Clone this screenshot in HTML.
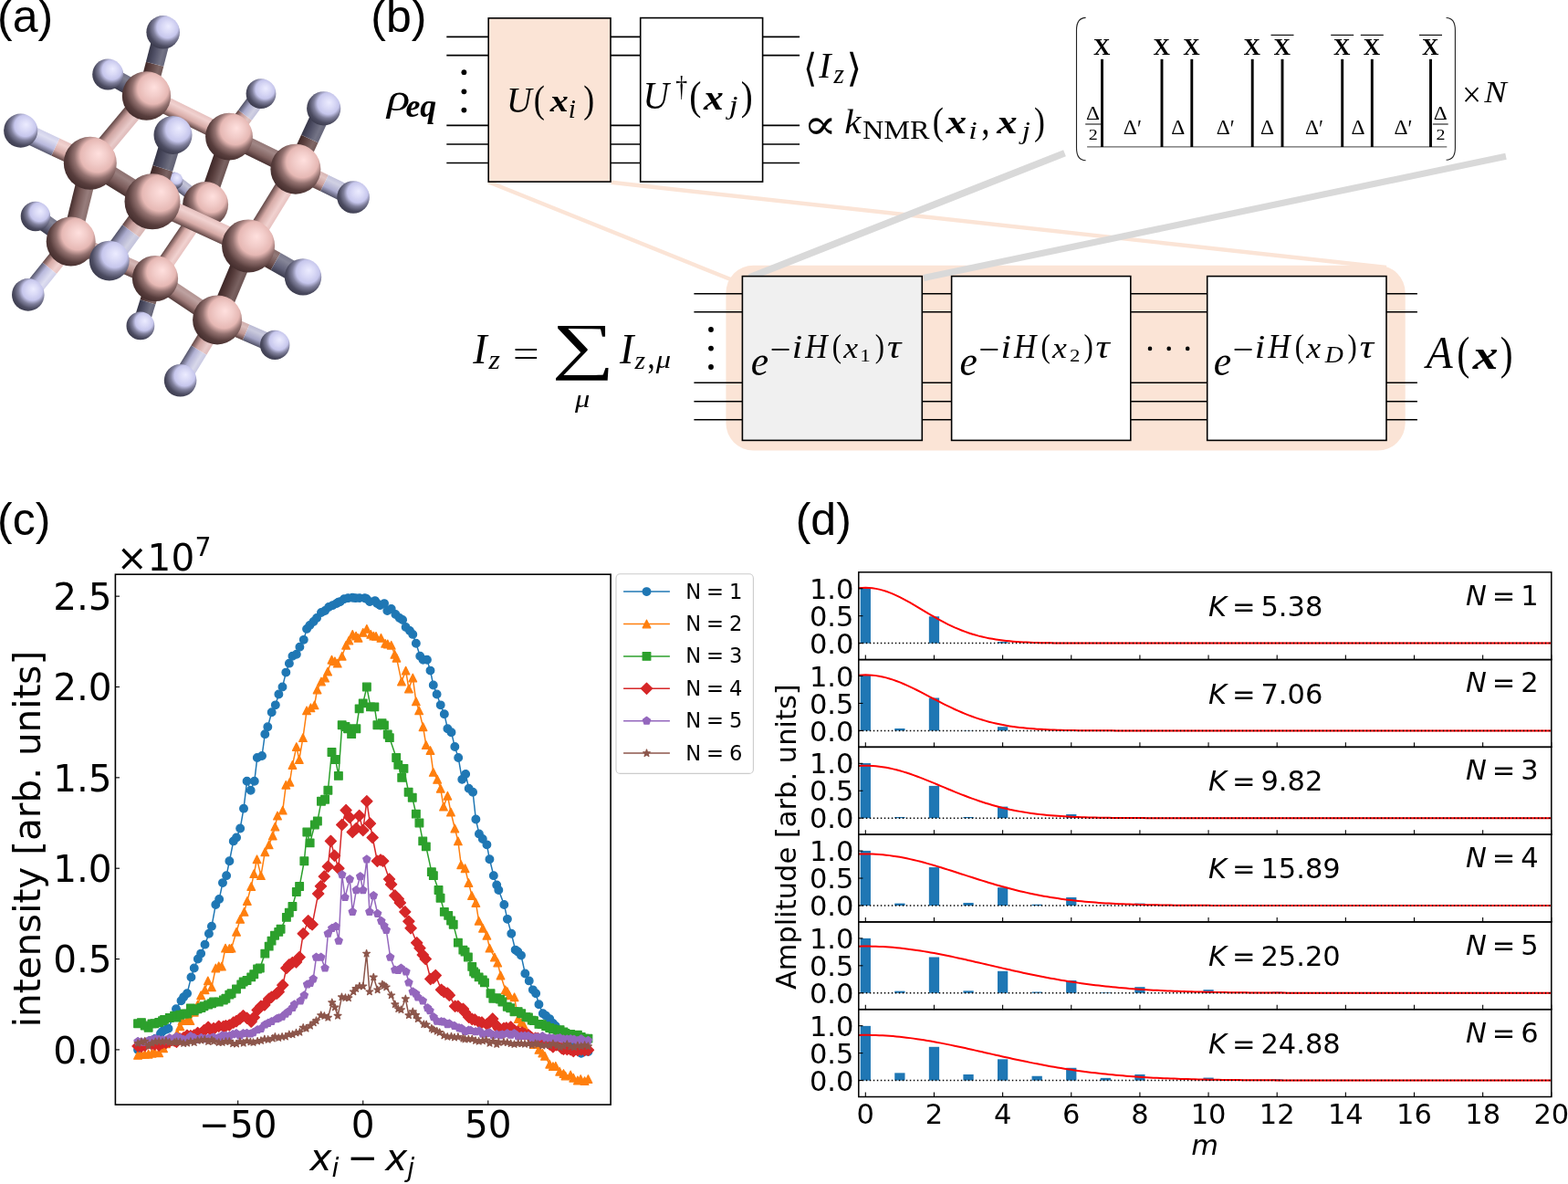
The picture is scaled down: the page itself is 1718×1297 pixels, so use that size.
<!DOCTYPE html>
<html><head><meta charset="utf-8"><title>Figure</title>
<style>html,body{margin:0;padding:0;background:#fff;overflow:hidden}svg{display:block}</style>
</head><body>
<svg width="1718" height="1297" viewBox="0 0 1718 1297"><defs><radialGradient id="sphC" cx="0.6" cy="0.4" r="0.7" fx="0.66" fy="0.32"><stop offset="0" stop-color="#ffe0de"/><stop offset="0.25" stop-color="#f2ccc9"/><stop offset="0.45" stop-color="#e6b8b4"/><stop offset="0.6" stop-color="#947270"/><stop offset="0.78" stop-color="#583e3d"/><stop offset="1" stop-color="#392424"/></radialGradient><radialGradient id="sphH" cx="0.6" cy="0.4" r="0.7" fx="0.66" fy="0.32"><stop offset="0" stop-color="#ececff"/><stop offset="0.25" stop-color="#d9d9f6"/><stop offset="0.45" stop-color="#c6c6ec"/><stop offset="0.6" stop-color="#80809c"/><stop offset="0.78" stop-color="#4c4c61"/><stop offset="1" stop-color="#323243"/></radialGradient><linearGradient id="bg1" gradientUnits="userSpaceOnUse" x1="155.4" y1="85.06" x2="174.7" y2="90.09"><stop offset="0" stop-color="#3f2828"/><stop offset="0.35" stop-color="#5e4342"/><stop offset="0.75" stop-color="#7f6766"/><stop offset="1" stop-color="#725958"/></linearGradient><linearGradient id="bg2" gradientUnits="userSpaceOnUse" x1="164.5" y1="50.21" x2="183.8" y2="55.24"><stop offset="0" stop-color="#363648"/><stop offset="0.35" stop-color="#515167"/><stop offset="0.75" stop-color="#747486"/><stop offset="1" stop-color="#66667a"/></linearGradient><linearGradient id="bg3" gradientUnits="userSpaceOnUse" x1="145.26" y1="107.52" x2="154.59" y2="90.73"><stop offset="0" stop-color="#422c2b"/><stop offset="0.35" stop-color="#6a4e4d"/><stop offset="0.75" stop-color="#8b7271"/><stop offset="1" stop-color="#7e6463"/></linearGradient><linearGradient id="bg4" gradientUnits="userSpaceOnUse" x1="124.11" y1="95.77" x2="133.44" y2="78.98"><stop offset="0" stop-color="#3a3a4c"/><stop offset="0.35" stop-color="#5c5c73"/><stop offset="0.75" stop-color="#7f7f91"/><stop offset="1" stop-color="#717185"/></linearGradient><linearGradient id="bg5" gradientUnits="userSpaceOnUse" x1="201.53" y1="135.86" x2="209.97" y2="118.74"><stop offset="0" stop-color="#624746"/><stop offset="0.35" stop-color="#d7aba7"/><stop offset="0.75" stop-color="#f1d2d0"/><stop offset="1" stop-color="#e7c2c0"/></linearGradient><linearGradient id="bg6" gradientUnits="userSpaceOnUse" x1="121.9" y1="135.36" x2="137.4" y2="148.34"><stop offset="0" stop-color="#604544"/><stop offset="0.35" stop-color="#cfa4a1"/><stop offset="0.75" stop-color="#e9cbca"/><stop offset="1" stop-color="#dfbbba"/></linearGradient><linearGradient id="bg7" gradientUnits="userSpaceOnUse" x1="252.3" y1="132.3" x2="267.2" y2="143.4"><stop offset="0" stop-color="#5e4342"/><stop offset="0.35" stop-color="#c79d9a"/><stop offset="0.75" stop-color="#e2c5c3"/><stop offset="1" stop-color="#d7b5b3"/></linearGradient><linearGradient id="bg8" gradientUnits="userSpaceOnUse" x1="269.8" y1="108.8" x2="284.7" y2="119.9"><stop offset="0" stop-color="#515166"/><stop offset="0.35" stop-color="#ababce"/><stop offset="0.75" stop-color="#d1d1e3"/><stop offset="1" stop-color="#c2c2db"/></linearGradient><linearGradient id="bg9" gradientUnits="userSpaceOnUse" x1="283.2" y1="176.11" x2="291.7" y2="158.69"><stop offset="0" stop-color="#493131"/><stop offset="0.35" stop-color="#816260"/><stop offset="0.75" stop-color="#a18786"/><stop offset="1" stop-color="#947877"/></linearGradient><linearGradient id="bg10" gradientUnits="userSpaceOnUse" x1="229.32" y1="183.82" x2="246.78" y2="189.88"><stop offset="0" stop-color="#3d2727"/><stop offset="0.35" stop-color="#583e3d"/><stop offset="0.75" stop-color="#7a6261"/><stop offset="1" stop-color="#6c5453"/></linearGradient><linearGradient id="bg11" gradientUnits="userSpaceOnUse" x1="75.34" y1="179.28" x2="84.21" y2="160.32"><stop offset="0" stop-color="#624746"/><stop offset="0.35" stop-color="#d7aba7"/><stop offset="0.75" stop-color="#f1d2d0"/><stop offset="1" stop-color="#e7c2c0"/></linearGradient><linearGradient id="bg12" gradientUnits="userSpaceOnUse" x1="37.29" y1="161.48" x2="46.16" y2="142.52"><stop offset="0" stop-color="#55556b"/><stop offset="0.35" stop-color="#b9b9dd"/><stop offset="0.75" stop-color="#dedef1"/><stop offset="1" stop-color="#cfcfe9"/></linearGradient><linearGradient id="bg13" gradientUnits="userSpaceOnUse" x1="127.23" y1="208.94" x2="138.57" y2="190.56"><stop offset="0" stop-color="#47302f"/><stop offset="0.35" stop-color="#7a5b5a"/><stop offset="0.75" stop-color="#9a807f"/><stop offset="1" stop-color="#8d7170"/></linearGradient><linearGradient id="bg14" gradientUnits="userSpaceOnUse" x1="78.38" y1="219.17" x2="98.12" y2="224.03"><stop offset="0" stop-color="#462f2e"/><stop offset="0.35" stop-color="#775957"/><stop offset="0.75" stop-color="#977d7c"/><stop offset="1" stop-color="#8a6f6d"/></linearGradient><linearGradient id="bg15" gradientUnits="userSpaceOnUse" x1="322.35" y1="164.31" x2="340.85" y2="172.89"><stop offset="0" stop-color="#3f2828"/><stop offset="0.35" stop-color="#5e4342"/><stop offset="0.75" stop-color="#7f6766"/><stop offset="1" stop-color="#725958"/></linearGradient><linearGradient id="bg16" gradientUnits="userSpaceOnUse" x1="337.75" y1="131.11" x2="356.25" y2="139.69"><stop offset="0" stop-color="#363648"/><stop offset="0.35" stop-color="#515167"/><stop offset="0.75" stop-color="#747486"/><stop offset="1" stop-color="#66667a"/></linearGradient><linearGradient id="bg17" gradientUnits="userSpaceOnUse" x1="335.33" y1="201.87" x2="344.07" y2="183.93"><stop offset="0" stop-color="#5e4342"/><stop offset="0.35" stop-color="#c79d9a"/><stop offset="0.75" stop-color="#e2c5c3"/><stop offset="1" stop-color="#d7b5b3"/></linearGradient><linearGradient id="bg18" gradientUnits="userSpaceOnUse" x1="366.93" y1="217.27" x2="375.67" y2="199.33"><stop offset="0" stop-color="#515166"/><stop offset="0.35" stop-color="#ababce"/><stop offset="0.75" stop-color="#d1d1e3"/><stop offset="1" stop-color="#c2c2db"/></linearGradient><linearGradient id="bg19" gradientUnits="userSpaceOnUse" x1="289.27" y1="221.93" x2="306.73" y2="232.67"><stop offset="0" stop-color="#624746"/><stop offset="0.35" stop-color="#d7aba7"/><stop offset="0.75" stop-color="#f1d2d0"/><stop offset="1" stop-color="#e7c2c0"/></linearGradient><linearGradient id="bg20" gradientUnits="userSpaceOnUse" x1="161.72" y1="199.21" x2="183.53" y2="205.94"><stop offset="0" stop-color="#3d2727"/><stop offset="0.35" stop-color="#583e3d"/><stop offset="0.75" stop-color="#7a6261"/><stop offset="1" stop-color="#6c5453"/></linearGradient><linearGradient id="bg21" gradientUnits="userSpaceOnUse" x1="172.97" y1="162.76" x2="194.78" y2="169.49"><stop offset="0" stop-color="#353546"/><stop offset="0.35" stop-color="#4c4c61"/><stop offset="0.75" stop-color="#6f6f80"/><stop offset="1" stop-color="#616174"/></linearGradient><linearGradient id="bg22" gradientUnits="userSpaceOnUse" x1="145.77" y1="230.13" x2="164.63" y2="243.87"><stop offset="0" stop-color="#5e4342"/><stop offset="0.35" stop-color="#c79d9a"/><stop offset="0.75" stop-color="#e2c5c3"/><stop offset="1" stop-color="#d7b5b3"/></linearGradient><linearGradient id="bg23" gradientUnits="userSpaceOnUse" x1="122.17" y1="262.53" x2="141.03" y2="276.27"><stop offset="0" stop-color="#515166"/><stop offset="0.35" stop-color="#ababce"/><stop offset="0.75" stop-color="#d1d1e3"/><stop offset="1" stop-color="#c2c2db"/></linearGradient><linearGradient id="bg24" gradientUnits="userSpaceOnUse" x1="215.02" y1="254.9" x2="224.08" y2="235.3"><stop offset="0" stop-color="#624746"/><stop offset="0.35" stop-color="#d7aba7"/><stop offset="0.75" stop-color="#f1d2d0"/><stop offset="1" stop-color="#e7c2c0"/></linearGradient><linearGradient id="bg25" gradientUnits="userSpaceOnUse" x1="190.04" y1="259.43" x2="205.06" y2="269.67"><stop offset="0" stop-color="#624746"/><stop offset="0.35" stop-color="#d7aba7"/><stop offset="0.75" stop-color="#f1d2d0"/><stop offset="1" stop-color="#e7c2c0"/></linearGradient><linearGradient id="bg26" gradientUnits="userSpaceOnUse" x1="212.2" y1="223.29" x2="220.95" y2="211.86"><stop offset="0" stop-color="#593f3e"/><stop offset="0.35" stop-color="#b8908d"/><stop offset="0.75" stop-color="#d4b7b5"/><stop offset="1" stop-color="#c9a7a5"/></linearGradient><linearGradient id="bg27" gradientUnits="userSpaceOnUse" x1="195.15" y1="210.24" x2="203.9" y2="198.81"><stop offset="0" stop-color="#4d4d62"/><stop offset="0.35" stop-color="#9e9ebf"/><stop offset="0.75" stop-color="#c3c3d6"/><stop offset="1" stop-color="#b4b4cd"/></linearGradient><linearGradient id="bg28" gradientUnits="userSpaceOnUse" x1="62.54" y1="265.32" x2="73.46" y2="249.93"><stop offset="0" stop-color="#442e2d"/><stop offset="0.35" stop-color="#725553"/><stop offset="0.75" stop-color="#927978"/><stop offset="1" stop-color="#856b69"/></linearGradient><linearGradient id="bg29" gradientUnits="userSpaceOnUse" x1="43.14" y1="251.57" x2="54.06" y2="236.18"><stop offset="0" stop-color="#3c3c4e"/><stop offset="0.35" stop-color="#63637b"/><stop offset="0.75" stop-color="#868698"/><stop offset="1" stop-color="#78788c"/></linearGradient><linearGradient id="bg30" gradientUnits="userSpaceOnUse" x1="58.27" y1="272.91" x2="73.68" y2="285.29"><stop offset="0" stop-color="#624746"/><stop offset="0.35" stop-color="#d7aba7"/><stop offset="0.75" stop-color="#f1d2d0"/><stop offset="1" stop-color="#e7c2c0"/></linearGradient><linearGradient id="bg31" gradientUnits="userSpaceOnUse" x1="34.82" y1="302.11" x2="50.23" y2="314.49"><stop offset="0" stop-color="#55556b"/><stop offset="0.35" stop-color="#b9b9dd"/><stop offset="0.75" stop-color="#dedef1"/><stop offset="1" stop-color="#cfcfe9"/></linearGradient><linearGradient id="bg32" gradientUnits="userSpaceOnUse" x1="120.05" y1="293.41" x2="127.65" y2="276.09"><stop offset="0" stop-color="#593f3e"/><stop offset="0.35" stop-color="#b8908d"/><stop offset="0.75" stop-color="#d4b7b5"/><stop offset="1" stop-color="#c9a7a5"/></linearGradient><linearGradient id="bg33" gradientUnits="userSpaceOnUse" x1="281.69" y1="287.4" x2="292.46" y2="268.4"><stop offset="0" stop-color="#442e2d"/><stop offset="0.35" stop-color="#725553"/><stop offset="0.75" stop-color="#927978"/><stop offset="1" stop-color="#856b69"/></linearGradient><linearGradient id="bg34" gradientUnits="userSpaceOnUse" x1="311.64" y1="304.4" x2="322.41" y2="285.4"><stop offset="0" stop-color="#3c3c4e"/><stop offset="0.35" stop-color="#63637b"/><stop offset="0.75" stop-color="#868698"/><stop offset="1" stop-color="#78788c"/></linearGradient><linearGradient id="bg35" gradientUnits="userSpaceOnUse" x1="245.73" y1="305.97" x2="264.47" y2="313.83"><stop offset="0" stop-color="#3d2727"/><stop offset="0.35" stop-color="#583e3d"/><stop offset="0.75" stop-color="#7a6261"/><stop offset="1" stop-color="#6c5453"/></linearGradient><linearGradient id="bg36" gradientUnits="userSpaceOnUse" x1="157.51" y1="315.35" x2="174.44" y2="320.6"><stop offset="0" stop-color="#3f2828"/><stop offset="0.35" stop-color="#5e4342"/><stop offset="0.75" stop-color="#7f6766"/><stop offset="1" stop-color="#725958"/></linearGradient><linearGradient id="bg37" gradientUnits="userSpaceOnUse" x1="149.46" y1="341.3" x2="166.39" y2="346.55"><stop offset="0" stop-color="#363648"/><stop offset="0.35" stop-color="#515167"/><stop offset="0.75" stop-color="#747486"/><stop offset="1" stop-color="#66667a"/></linearGradient><linearGradient id="bg38" gradientUnits="userSpaceOnUse" x1="198.81" y1="335.57" x2="209.29" y2="319.83"><stop offset="0" stop-color="#523938"/><stop offset="0.35" stop-color="#a07c7a"/><stop offset="0.75" stop-color="#bea2a1"/><stop offset="1" stop-color="#b29391"/></linearGradient><linearGradient id="bg39" gradientUnits="userSpaceOnUse" x1="250.11" y1="365.93" x2="257.64" y2="348.62"><stop offset="0" stop-color="#5b4140"/><stop offset="0.35" stop-color="#bf9794"/><stop offset="0.75" stop-color="#dbbebc"/><stop offset="1" stop-color="#d0aeac"/></linearGradient><linearGradient id="bg40" gradientUnits="userSpaceOnUse" x1="281.66" y1="379.68" x2="289.19" y2="362.37"><stop offset="0" stop-color="#4f4f64"/><stop offset="0.35" stop-color="#a5a5c6"/><stop offset="0.75" stop-color="#cacadd"/><stop offset="1" stop-color="#bbbbd4"/></linearGradient><linearGradient id="bg41" gradientUnits="userSpaceOnUse" x1="219.54" y1="361.85" x2="236.41" y2="372.15"><stop offset="0" stop-color="#604544"/><stop offset="0.35" stop-color="#cfa4a1"/><stop offset="0.75" stop-color="#e9cbca"/><stop offset="1" stop-color="#dfbbba"/></linearGradient><linearGradient id="bg42" gradientUnits="userSpaceOnUse" x1="199.29" y1="395.05" x2="216.16" y2="405.35"><stop offset="0" stop-color="#535369"/><stop offset="0.35" stop-color="#b2b2d5"/><stop offset="0.75" stop-color="#d8d8ea"/><stop offset="1" stop-color="#c9c9e2"/></linearGradient><circle id="m0" r="4.3" fill="#1f77b4" stroke="#1f77b4" stroke-width="1.3"/><path id="m1" d="M0,-4.3 L4.3,4.3 L-4.3,4.3 Z" fill="#ff7f0e" stroke="#ff7f0e" stroke-width="1.3" stroke-linejoin="round"/><path id="m2" d="M-4.3,-4.3 h8.6 v8.6 h-8.6 Z" fill="#2ca02c" stroke="#2ca02c" stroke-width="1.3" stroke-linejoin="round"/><path id="m3" d="M0,-6.08 L6.08,0 L0,6.08 L-6.08,0 Z" fill="#d62728" stroke="#d62728" stroke-width="1.3" stroke-linejoin="round"/><path id="m4" d="M0,-4.3 L-4.09,-1.33 L-2.53,3.48 L2.53,3.48 L4.09,-1.33 Z" fill="#9467bd" stroke="#9467bd" stroke-width="1.3" stroke-linejoin="round"/><path id="m5" d="M0,-4.08 L-0.92,-1.26 L-3.89,-1.26 L-1.48,0.48 L-2.4,3.3 L-0,1.56 L2.4,3.3 L1.48,0.48 L3.89,-1.26 L0.92,-1.26 Z" fill="#8c564b" stroke="#8c564b" stroke-width="1.3" stroke-linejoin="round"/></defs><text x="-3" y="34.8" font-family="'Liberation Sans', Arial, sans-serif" font-size="50">(a)</text>
<text x="406.3" y="34.8" font-family="'Liberation Sans', Arial, sans-serif" font-size="50">(b)</text>
<text x="-3" y="586" font-family="'Liberation Sans', Arial, sans-serif" font-size="50">(c)</text>
<text x="871.7" y="586" font-family="'Liberation Sans', Arial, sans-serif" font-size="50">(d)</text>
<g>
<polygon points="229.47,218.38 212.42,205.33 203.68,216.77 220.73,229.82" fill="url(#bg26)"/><polygon points="212.42,205.33 195.37,192.28 186.63,203.72 203.68,216.77" fill="url(#bg27)"/>
<circle cx="191" cy="198" r="9.5" fill="url(#sphH)"/>
<polygon points="178.47,307.63 170.42,333.58 153.48,328.32 161.53,302.37" fill="url(#bg36)"/><polygon points="170.42,333.58 162.37,359.53 145.43,354.27 153.48,328.32" fill="url(#bg37)"/>
<circle cx="153.9" cy="356.9" r="15.4" fill="url(#sphH)"/>
<polygon points="83.16,256.8 63.76,243.05 52.84,258.45 72.24,272.2" fill="url(#bg28)"/><polygon points="63.76,243.05 44.36,229.3 33.44,244.7 52.84,258.45" fill="url(#bg29)"/>
<polygon points="241.87,341.75 273.42,355.5 265.88,372.8 234.33,359.05" fill="url(#bg39)"/><polygon points="273.42,355.5 304.97,369.25 297.43,386.55 265.88,372.8" fill="url(#bg40)"/>
<polygon points="259.73,152.63 233.83,227.13 216.37,221.07 242.27,146.57" fill="url(#bg10)"/>
<polygon points="232.61,229.22 177.51,310.12 162.49,299.88 217.59,218.98" fill="url(#bg25)"/>
<circle cx="38.9" cy="237" r="16.2" fill="url(#sphH)"/>
<circle cx="301.2" cy="377.9" r="16.2" fill="url(#sphH)"/>
<circle cx="225.1" cy="224.1" r="25" fill="url(#sphC)"/>
<polygon points="81.5,255.84 173.8,296.34 166.2,313.66 73.9,273.16" fill="url(#bg32)"/>
<polygon points="175.24,297.13 243.34,342.53 232.86,358.27 164.76,312.87" fill="url(#bg38)"/>
<circle cx="170" cy="305" r="25.1" fill="url(#sphC)"/>
<polygon points="258.45,155.15 275.95,131.65 261.05,120.55 243.55,144.05" fill="url(#bg7)"/><polygon points="275.95,131.65 293.45,108.15 278.55,97.05 261.05,120.55" fill="url(#bg8)"/>
<circle cx="286" cy="102.6" r="16.4" fill="url(#sphH)"/>
<polygon points="164.72,96.44 255.22,141.04 246.78,158.16 156.28,113.56" fill="url(#bg5)"/>
<polygon points="255.25,140.89 328.15,176.49 319.65,193.91 246.75,158.31" fill="url(#bg9)"/>
<circle cx="251" cy="149.6" r="25.9" fill="url(#sphC)"/>
<polygon points="165.16,96.6 144.01,84.85 134.69,101.65 155.84,113.4" fill="url(#bg3)"/><polygon points="144.01,84.85 122.86,73.1 113.54,89.9 134.69,101.65" fill="url(#bg4)"/>
<circle cx="118.2" cy="81.5" r="17" fill="url(#sphH)"/>
<polygon points="170.15,107.52 179.25,72.67 159.95,67.63 150.85,102.48" fill="url(#bg1)"/><polygon points="179.25,72.67 188.35,37.82 169.05,32.78 159.95,67.63" fill="url(#bg2)"/>
<polygon points="168.25,111.49 106.55,185.19 91.05,172.21 152.75,98.51" fill="url(#bg6)"/>
<circle cx="160.5" cy="105" r="26.7" fill="url(#sphC)"/>
<polygon points="108.67,181.13 87.57,266.93 67.83,262.07 88.93,176.27" fill="url(#bg14)"/>
<polygon points="85.41,270.69 61.96,299.89 46.54,287.51 69.99,258.31" fill="url(#bg30)"/><polygon points="61.96,299.89 38.51,329.09 23.09,316.71 46.54,287.51" fill="url(#bg31)"/>
<polygon points="281.47,273.33 247.47,354.33 228.73,346.47 262.73,265.47" fill="url(#bg35)"/>
<polygon points="246.54,355.55 226.29,388.75 209.41,378.45 229.66,345.25" fill="url(#bg41)"/><polygon points="226.29,388.75 206.04,421.95 189.16,411.65 209.41,378.45" fill="url(#bg42)"/>
<circle cx="77.7" cy="264.5" r="27" fill="url(#sphC)"/>
<circle cx="238.1" cy="350.4" r="27" fill="url(#sphC)"/>
<polygon points="328.27,176.23 359.87,191.63 351.13,209.57 319.53,194.17" fill="url(#bg17)"/><polygon points="359.87,191.63 391.47,207.03 382.73,224.97 351.13,209.57" fill="url(#bg18)"/>
<circle cx="387.1" cy="216" r="17.8" fill="url(#sphH)"/>
<circle cx="30.8" cy="322.9" r="17.8" fill="url(#sphH)"/>
<circle cx="197.6" cy="416.8" r="17.8" fill="url(#sphH)"/>
<polygon points="333.15,189.49 348.55,156.29 330.05,147.71 314.65,180.91" fill="url(#bg15)"/><polygon points="348.55,156.29 363.95,123.09 345.45,114.51 330.05,147.71" fill="url(#bg16)"/>
<polygon points="332.63,190.57 280.83,274.77 263.37,264.03 315.17,179.83" fill="url(#bg19)"/>
<circle cx="323.9" cy="185.2" r="27.5" fill="url(#sphC)"/>
<circle cx="178.7" cy="35.3" r="18.3" fill="url(#sphH)"/>
<polygon points="103.24,169.22 65.19,151.42 56.31,170.38 94.36,188.18" fill="url(#bg11)"/><polygon points="65.19,151.42 27.14,133.62 18.26,152.58 56.31,170.38" fill="url(#bg12)"/>
<circle cx="22.7" cy="143.1" r="18.6" fill="url(#sphH)"/>
<circle cx="354.7" cy="118.8" r="18.6" fill="url(#sphH)"/>
<polygon points="104.47,169.51 172.67,211.61 161.33,229.99 93.13,187.89" fill="url(#bg13)"/>
<polygon points="171.53,211 276.63,259.6 267.57,279.2 162.47,230.6" fill="url(#bg24)"/>
<polygon points="277.49,259.9 307.44,276.9 296.66,295.9 266.71,278.9" fill="url(#bg33)"/><polygon points="307.44,276.9 337.39,293.9 326.61,312.9 296.66,295.9" fill="url(#bg34)"/>
<circle cx="98.8" cy="178.7" r="29" fill="url(#sphC)"/>
<circle cx="272.1" cy="269.4" r="29" fill="url(#sphC)"/>
<polygon points="177.91,224.17 189.16,187.72 167.34,180.98 156.09,217.43" fill="url(#bg20)"/><polygon points="189.16,187.72 200.41,151.27 178.59,144.53 167.34,180.98" fill="url(#bg21)"/>
<polygon points="176.43,227.67 152.83,260.07 133.97,246.33 157.57,213.93" fill="url(#bg22)"/><polygon points="152.83,260.07 129.23,292.47 110.37,278.73 133.97,246.33" fill="url(#bg23)"/>
<circle cx="167" cy="220.8" r="30.5" fill="url(#sphC)"/>
<circle cx="332" cy="303.4" r="20.2" fill="url(#sphH)"/>
<circle cx="189.5" cy="147.9" r="21" fill="url(#sphH)"/>
<circle cx="119.8" cy="285.6" r="21.9" fill="url(#sphH)"/>
</g>
<line x1="535.1" y1="199.3" x2="806" y2="308.2" stroke="#fbe4d6" stroke-width="4.4"/>
<line x1="669.5" y1="199.8" x2="1519" y2="293" stroke="#fbe4d6" stroke-width="4.4"/>
<rect x="795.4" y="290.7" width="744.3" height="202.8" rx="30" ry="30" fill="#fbe4d6"/>
<line x1="1166.5" y1="167.7" x2="821" y2="304" stroke="#d9d9d9" stroke-width="7.6"/>
<line x1="1650" y1="171.3" x2="1012" y2="304.5" stroke="#d9d9d9" stroke-width="7.2"/>
<line x1="489.3" y1="40.4" x2="535.2" y2="40.4" stroke="#000" stroke-width="1.6"/>
<line x1="669" y1="40.4" x2="701.7" y2="40.4" stroke="#000" stroke-width="1.6"/>
<line x1="835.6" y1="40.4" x2="876.1" y2="40.4" stroke="#000" stroke-width="1.6"/>
<line x1="489.3" y1="60.6" x2="535.2" y2="60.6" stroke="#000" stroke-width="1.6"/>
<line x1="669" y1="60.6" x2="701.7" y2="60.6" stroke="#000" stroke-width="1.6"/>
<line x1="835.6" y1="60.6" x2="876.1" y2="60.6" stroke="#000" stroke-width="1.6"/>
<line x1="489.3" y1="137.4" x2="535.2" y2="137.4" stroke="#000" stroke-width="1.6"/>
<line x1="669" y1="137.4" x2="701.7" y2="137.4" stroke="#000" stroke-width="1.6"/>
<line x1="835.6" y1="137.4" x2="876.1" y2="137.4" stroke="#000" stroke-width="1.6"/>
<line x1="489.3" y1="158" x2="535.2" y2="158" stroke="#000" stroke-width="1.6"/>
<line x1="669" y1="158" x2="701.7" y2="158" stroke="#000" stroke-width="1.6"/>
<line x1="835.6" y1="158" x2="876.1" y2="158" stroke="#000" stroke-width="1.6"/>
<line x1="489.3" y1="178.5" x2="535.2" y2="178.5" stroke="#000" stroke-width="1.6"/>
<line x1="669" y1="178.5" x2="701.7" y2="178.5" stroke="#000" stroke-width="1.6"/>
<line x1="835.6" y1="178.5" x2="876.1" y2="178.5" stroke="#000" stroke-width="1.6"/>
<rect x="535.2" y="19.9" width="133.8" height="179.2" fill="#fbe4d6" stroke="#000" stroke-width="1.6"/>
<rect x="701.7" y="19.6" width="133.9" height="179.5" fill="#fff" stroke="#000" stroke-width="1.6"/>
<circle cx="508.4" cy="79.2" r="2.9"/>
<circle cx="508.4" cy="100.3" r="2.9"/>
<circle cx="508.4" cy="120.6" r="2.9"/>
<text x="424.01" y="121.44" font-family="'Liberation Serif', 'Times New Roman', serif" font-size="43.07" font-style="italic" textLength="25.22" lengthAdjust="spacingAndGlyphs">ρ</text>
<text x="444.51" y="128.11" font-family="'Liberation Serif', 'Times New Roman', serif" font-size="35.77" font-style="italic" font-weight="bold">eq</text>
<text x="555.06" y="122.99" font-family="'Liberation Serif', 'Times New Roman', serif" font-size="41.05" font-style="italic" textLength="27.62" lengthAdjust="spacingAndGlyphs">U</text>
<text x="584.76" y="123.23" font-family="'Liberation Serif', 'Times New Roman', serif" font-size="42.64" textLength="12.15" lengthAdjust="spacingAndGlyphs">(</text>
<text x="602.8" y="122.3" font-family="'Liberation Serif', 'Times New Roman', serif" font-size="33.04" font-style="italic" font-weight="bold" textLength="20" lengthAdjust="spacingAndGlyphs">x</text>
<text x="622.78" y="129" font-family="'Liberation Serif', 'Times New Roman', serif" font-size="29.39" font-style="italic">i</text>
<text x="639.33" y="123.23" font-family="'Liberation Serif', 'Times New Roman', serif" font-size="42.64" textLength="11.91" lengthAdjust="spacingAndGlyphs">)</text>
<text x="704.55" y="119.27" font-family="'Liberation Serif', 'Times New Roman', serif" font-size="43.16" font-style="italic" textLength="28.47" lengthAdjust="spacingAndGlyphs">U</text>
<text x="740.23" y="104.99" font-family="'Liberation Serif', 'Times New Roman', serif" font-size="32.22" textLength="12.89" lengthAdjust="spacingAndGlyphs">†</text>
<text x="755.32" y="120.23" font-family="'Liberation Serif', 'Times New Roman', serif" font-size="44.51" textLength="13.19" lengthAdjust="spacingAndGlyphs">(</text>
<text x="771.04" y="119.7" font-family="'Liberation Serif', 'Times New Roman', serif" font-size="38.48" font-style="italic" font-weight="bold" textLength="21.75" lengthAdjust="spacingAndGlyphs">x</text>
<text x="798.7" y="124.99" font-family="'Liberation Serif', 'Times New Roman', serif" font-size="30.29" font-style="italic" textLength="9.8" lengthAdjust="spacingAndGlyphs">j</text>
<text x="811.63" y="120.23" font-family="'Liberation Serif', 'Times New Roman', serif" font-size="44.51" textLength="12.94" lengthAdjust="spacingAndGlyphs">)</text>
<text x="880.26" y="88.85" font-family="'DejaVu Serif', serif" font-size="42.7" textLength="14.9" lengthAdjust="spacingAndGlyphs">⟨</text>
<text x="897.2" y="85.1" font-family="'Liberation Serif', 'Times New Roman', serif" font-size="39.85" font-style="italic">I</text>
<text x="913.49" y="91" font-family="'Liberation Serif', 'Times New Roman', serif" font-size="29.35" font-style="italic">z</text>
<text x="927.58" y="88.85" font-family="'DejaVu Serif', serif" font-size="42.7">⟩</text>
<text x="879.95" y="151.52" font-family="'DejaVu Serif', serif" font-size="46.58" textLength="37.22" lengthAdjust="spacingAndGlyphs">∝</text>
<text x="925.27" y="146.4" font-family="'Liberation Serif', 'Times New Roman', serif" font-size="38.13" font-style="italic" textLength="18.27" lengthAdjust="spacingAndGlyphs">k</text>
<text x="944.93" y="152.3" font-family="'Liberation Serif', 'Times New Roman', serif" font-size="29.62" textLength="73.68" lengthAdjust="spacingAndGlyphs">NMR</text>
<text x="1021.86" y="146.53" font-family="'Liberation Serif', 'Times New Roman', serif" font-size="42.64" textLength="12.15" lengthAdjust="spacingAndGlyphs">(</text>
<text x="1036.65" y="145.6" font-family="'Liberation Serif', 'Times New Roman', serif" font-size="36.74" font-style="italic" font-weight="bold" textLength="22.41" lengthAdjust="spacingAndGlyphs">x</text>
<text x="1061.32" y="152.3" font-family="'Liberation Serif', 'Times New Roman', serif" font-size="28.03" font-style="italic" textLength="9.5" lengthAdjust="spacingAndGlyphs">i</text>
<text x="1075.22" y="147.06" font-family="'Liberation Serif', 'Times New Roman', serif" font-size="46.27" textLength="9.25" lengthAdjust="spacingAndGlyphs">,</text>
<text x="1092.35" y="145.6" font-family="'Liberation Serif', 'Times New Roman', serif" font-size="36.74" font-style="italic" font-weight="bold" textLength="22.41" lengthAdjust="spacingAndGlyphs">x</text>
<text x="1119.86" y="151.6" font-family="'Liberation Serif', 'Times New Roman', serif" font-size="26.97" font-style="italic" textLength="9.14" lengthAdjust="spacingAndGlyphs">j</text>
<text x="1133.03" y="146.53" font-family="'Liberation Serif', 'Times New Roman', serif" font-size="42.64" textLength="11.91" lengthAdjust="spacingAndGlyphs">)</text>
<path d="M1189.6,19.4 Q1179.5,19.6 1179.5,33 L1179.5,162 Q1179.5,175.6 1189.6,175.8" fill="none" stroke="#222" stroke-width="1.1"/>
<path d="M1584.6,19.5 Q1594.4,19.7 1594.4,33 L1594.4,162 Q1594.4,175 1584.6,175.2" fill="none" stroke="#222" stroke-width="1.1"/>
<line x1="1191.1" y1="160.9" x2="1585.3" y2="160.9" stroke="#666" stroke-width="1.3"/>
<line x1="1207.5" y1="64.8" x2="1207.5" y2="161" stroke="#000" stroke-width="2.9"/>
<text x="1197.89" y="60.1" font-family="'Liberation Serif', 'Times New Roman', serif" font-size="25.5" font-weight="bold">X</text>
<line x1="1273" y1="64.8" x2="1273" y2="161" stroke="#000" stroke-width="2.9"/>
<text x="1263.39" y="60.1" font-family="'Liberation Serif', 'Times New Roman', serif" font-size="25.5" font-weight="bold">X</text>
<line x1="1305.8" y1="64.8" x2="1305.8" y2="161" stroke="#000" stroke-width="2.9"/>
<text x="1296.19" y="60.1" font-family="'Liberation Serif', 'Times New Roman', serif" font-size="25.5" font-weight="bold">X</text>
<line x1="1372.2" y1="64.8" x2="1372.2" y2="161" stroke="#000" stroke-width="2.9"/>
<text x="1362.59" y="60.1" font-family="'Liberation Serif', 'Times New Roman', serif" font-size="25.5" font-weight="bold">X</text>
<line x1="1405" y1="64.8" x2="1405" y2="161" stroke="#000" stroke-width="2.9"/>
<text x="1395.39" y="60.1" font-family="'Liberation Serif', 'Times New Roman', serif" font-size="25.5" font-weight="bold">X</text>
<line x1="1392.5" y1="38.4" x2="1417.5" y2="38.4" stroke="#000" stroke-width="1.1"/>
<line x1="1470.7" y1="64.8" x2="1470.7" y2="161" stroke="#000" stroke-width="2.9"/>
<text x="1461.09" y="60.1" font-family="'Liberation Serif', 'Times New Roman', serif" font-size="25.5" font-weight="bold">X</text>
<line x1="1458.2" y1="38.4" x2="1483.2" y2="38.4" stroke="#000" stroke-width="1.1"/>
<line x1="1503.3" y1="64.8" x2="1503.3" y2="161" stroke="#000" stroke-width="2.9"/>
<text x="1493.69" y="60.1" font-family="'Liberation Serif', 'Times New Roman', serif" font-size="25.5" font-weight="bold">X</text>
<line x1="1490.8" y1="38.4" x2="1515.8" y2="38.4" stroke="#000" stroke-width="1.1"/>
<line x1="1567.5" y1="64.8" x2="1567.5" y2="161" stroke="#000" stroke-width="2.9"/>
<text x="1557.89" y="60.1" font-family="'Liberation Serif', 'Times New Roman', serif" font-size="25.5" font-weight="bold">X</text>
<line x1="1555" y1="38.4" x2="1580" y2="38.4" stroke="#000" stroke-width="1.1"/>
<text x="1230.87" y="146.7" font-family="'Liberation Serif', 'Times New Roman', serif" font-size="22.12" textLength="15.02" lengthAdjust="spacingAndGlyphs">Δ</text>
<text x="1245.98" y="149.8" font-family="'Liberation Serif', 'Times New Roman', serif" font-size="28.09" textLength="4.91" lengthAdjust="spacingAndGlyphs">′</text>
<text x="1332.67" y="146.7" font-family="'Liberation Serif', 'Times New Roman', serif" font-size="22.12" textLength="15.02" lengthAdjust="spacingAndGlyphs">Δ</text>
<text x="1347.78" y="149.8" font-family="'Liberation Serif', 'Times New Roman', serif" font-size="28.09" textLength="4.91" lengthAdjust="spacingAndGlyphs">′</text>
<text x="1429.97" y="146.7" font-family="'Liberation Serif', 'Times New Roman', serif" font-size="22.12" textLength="15.02" lengthAdjust="spacingAndGlyphs">Δ</text>
<text x="1445.08" y="149.8" font-family="'Liberation Serif', 'Times New Roman', serif" font-size="28.09" textLength="4.91" lengthAdjust="spacingAndGlyphs">′</text>
<text x="1527.47" y="146.7" font-family="'Liberation Serif', 'Times New Roman', serif" font-size="22.12" textLength="15.02" lengthAdjust="spacingAndGlyphs">Δ</text>
<text x="1542.58" y="149.8" font-family="'Liberation Serif', 'Times New Roman', serif" font-size="28.09" textLength="4.91" lengthAdjust="spacingAndGlyphs">′</text>
<text x="1283.17" y="146.7" font-family="'Liberation Serif', 'Times New Roman', serif" font-size="22.12" textLength="15.02" lengthAdjust="spacingAndGlyphs">Δ</text>
<text x="1381.07" y="146.7" font-family="'Liberation Serif', 'Times New Roman', serif" font-size="22.12" textLength="15.02" lengthAdjust="spacingAndGlyphs">Δ</text>
<text x="1480.57" y="146.7" font-family="'Liberation Serif', 'Times New Roman', serif" font-size="22.12" textLength="15.02" lengthAdjust="spacingAndGlyphs">Δ</text>
<text x="1190.07" y="131.4" font-family="'Liberation Serif', 'Times New Roman', serif" font-size="21.97" textLength="15.02" lengthAdjust="spacingAndGlyphs">Δ</text>
<line x1="1189.2" y1="136" x2="1206" y2="136" stroke="#000" stroke-width="1"/>
<text x="1192.7" y="152.5" font-family="'Liberation Serif', 'Times New Roman', serif" font-size="17.58" textLength="10" lengthAdjust="spacingAndGlyphs">2</text>
<text x="1570.77" y="131.4" font-family="'Liberation Serif', 'Times New Roman', serif" font-size="21.97" textLength="15.02" lengthAdjust="spacingAndGlyphs">Δ</text>
<line x1="1569.9" y1="136" x2="1586.7" y2="136" stroke="#000" stroke-width="1"/>
<text x="1573.4" y="152.5" font-family="'Liberation Serif', 'Times New Roman', serif" font-size="17.58" textLength="10" lengthAdjust="spacingAndGlyphs">2</text>
<text x="1602.02" y="116.87" font-family="'Liberation Serif', 'Times New Roman', serif" font-size="39.01" textLength="21.03" lengthAdjust="spacingAndGlyphs">×</text>
<text x="1626.38" y="111.8" font-family="'Liberation Serif', 'Times New Roman', serif" font-size="34.66" font-style="italic" textLength="24.55" lengthAdjust="spacingAndGlyphs">N</text>
<line x1="760.4" y1="321.8" x2="1552.9" y2="321.8" stroke="#000" stroke-width="1.6"/>
<line x1="760.4" y1="341.7" x2="1552.9" y2="341.7" stroke="#000" stroke-width="1.6"/>
<line x1="760.4" y1="419.2" x2="1552.9" y2="419.2" stroke="#000" stroke-width="1.6"/>
<line x1="760.4" y1="439.8" x2="1552.9" y2="439.8" stroke="#000" stroke-width="1.6"/>
<line x1="760.4" y1="459.7" x2="1552.9" y2="459.7" stroke="#000" stroke-width="1.6"/>
<rect x="813.4" y="302.6" width="196.9" height="179.8" fill="#f0f0f0" stroke="#000" stroke-width="1.6"/>
<rect x="1042.6" y="302.6" width="196.2" height="179.8" fill="#fff" stroke="#000" stroke-width="1.6"/>
<rect x="1322.7" y="302.6" width="196.3" height="179.8" fill="#fff" stroke="#000" stroke-width="1.6"/>
<circle cx="779" cy="361" r="2.9"/>
<circle cx="779" cy="381.6" r="2.9"/>
<circle cx="779" cy="402" r="2.9"/>
<circle cx="1260" cy="381.9" r="2.3"/>
<circle cx="1280.7" cy="381.9" r="2.3"/>
<circle cx="1301.2" cy="381.9" r="2.3"/>
<text x="518.23" y="397.8" font-family="'Liberation Serif', 'Times New Roman', serif" font-size="46.11" font-style="italic">I</text>
<text x="535.62" y="403.5" font-family="'Liberation Serif', 'Times New Roman', serif" font-size="28.7" font-style="italic" textLength="12.43" lengthAdjust="spacingAndGlyphs">z</text>
<text x="562.06" y="400.73" font-family="'Liberation Serif', 'Times New Roman', serif" font-size="41.6" textLength="28.62" lengthAdjust="spacingAndGlyphs">=</text>
<text x="604.77" y="402.07" font-family="'Liberation Serif', 'Times New Roman', serif" font-size="68.51" textLength="68.56" lengthAdjust="spacingAndGlyphs">∑</text>
<text x="629.9" y="446.07" font-family="'Liberation Serif', 'Times New Roman', serif" font-size="26.67" font-style="italic" textLength="16.33" lengthAdjust="spacingAndGlyphs">μ</text>
<text x="679.03" y="397.8" font-family="'Liberation Serif', 'Times New Roman', serif" font-size="46.11" font-style="italic">I</text>
<text x="695.4" y="403.5" font-family="'Liberation Serif', 'Times New Roman', serif" font-size="26.74" font-style="italic" textLength="11.52" lengthAdjust="spacingAndGlyphs">z</text>
<text x="709.49" y="403.08" font-family="'Liberation Serif', 'Times New Roman', serif" font-size="40.78" textLength="8.16" lengthAdjust="spacingAndGlyphs">,</text>
<text x="718.8" y="403.47" font-family="'Liberation Serif', 'Times New Roman', serif" font-size="26.67" font-style="italic" textLength="16.33" lengthAdjust="spacingAndGlyphs">μ</text>
<text x="822.79" y="411.43" font-family="'Liberation Serif', 'Times New Roman', serif" font-size="47.29" font-style="italic" textLength="19.35" lengthAdjust="spacingAndGlyphs">e</text>
<line x1="845.6" y1="382.9" x2="864.6" y2="382.9" stroke="#000" stroke-width="1.9"/>
<text x="867.74" y="392" font-family="'Liberation Serif', 'Times New Roman', serif" font-size="35.3" font-style="italic" textLength="11.4" lengthAdjust="spacingAndGlyphs">i</text>
<text x="882.34" y="392" font-family="'Liberation Serif', 'Times New Roman', serif" font-size="37.25" font-style="italic" textLength="24.32" lengthAdjust="spacingAndGlyphs">H</text>
<text x="911.81" y="391.49" font-family="'Liberation Serif', 'Times New Roman', serif" font-size="36.81" textLength="10.32" lengthAdjust="spacingAndGlyphs">(</text>
<text x="924.36" y="392" font-family="'Liberation Serif', 'Times New Roman', serif" font-size="32.17" font-style="italic" textLength="15.86" lengthAdjust="spacingAndGlyphs">x</text>
<text x="942.32" y="396" font-family="'Liberation Serif', 'Times New Roman', serif" font-size="18.94" textLength="11.55" lengthAdjust="spacingAndGlyphs">1</text>
<text x="958.78" y="391.49" font-family="'Liberation Serif', 'Times New Roman', serif" font-size="36.81" textLength="10.25" lengthAdjust="spacingAndGlyphs">)</text>
<text x="971.94" y="391.65" font-family="'Liberation Serif', 'Times New Roman', serif" font-size="35.11" font-style="italic" textLength="15.33" lengthAdjust="spacingAndGlyphs">τ</text>
<text x="1051.49" y="411.43" font-family="'Liberation Serif', 'Times New Roman', serif" font-size="47.29" font-style="italic" textLength="19.35" lengthAdjust="spacingAndGlyphs">e</text>
<line x1="1074.3" y1="382.9" x2="1093.3" y2="382.9" stroke="#000" stroke-width="1.9"/>
<text x="1096.44" y="392" font-family="'Liberation Serif', 'Times New Roman', serif" font-size="35.3" font-style="italic" textLength="11.4" lengthAdjust="spacingAndGlyphs">i</text>
<text x="1111.04" y="392" font-family="'Liberation Serif', 'Times New Roman', serif" font-size="37.25" font-style="italic" textLength="24.32" lengthAdjust="spacingAndGlyphs">H</text>
<text x="1140.51" y="391.49" font-family="'Liberation Serif', 'Times New Roman', serif" font-size="36.81" textLength="10.32" lengthAdjust="spacingAndGlyphs">(</text>
<text x="1153.06" y="392" font-family="'Liberation Serif', 'Times New Roman', serif" font-size="32.17" font-style="italic" textLength="15.86" lengthAdjust="spacingAndGlyphs">x</text>
<text x="1172.08" y="396" font-family="'Liberation Serif', 'Times New Roman', serif" font-size="18.94" textLength="11.38" lengthAdjust="spacingAndGlyphs">2</text>
<text x="1187.48" y="391.49" font-family="'Liberation Serif', 'Times New Roman', serif" font-size="36.81" textLength="10.25" lengthAdjust="spacingAndGlyphs">)</text>
<text x="1200.64" y="391.65" font-family="'Liberation Serif', 'Times New Roman', serif" font-size="35.11" font-style="italic" textLength="15.33" lengthAdjust="spacingAndGlyphs">τ</text>
<text x="1329.79" y="411.43" font-family="'Liberation Serif', 'Times New Roman', serif" font-size="47.29" font-style="italic" textLength="19.35" lengthAdjust="spacingAndGlyphs">e</text>
<line x1="1352.6" y1="382.9" x2="1371.6" y2="382.9" stroke="#000" stroke-width="1.9"/>
<text x="1374.74" y="392" font-family="'Liberation Serif', 'Times New Roman', serif" font-size="35.3" font-style="italic" textLength="11.4" lengthAdjust="spacingAndGlyphs">i</text>
<text x="1389.34" y="392" font-family="'Liberation Serif', 'Times New Roman', serif" font-size="37.25" font-style="italic" textLength="24.32" lengthAdjust="spacingAndGlyphs">H</text>
<text x="1418.81" y="391.49" font-family="'Liberation Serif', 'Times New Roman', serif" font-size="36.81" textLength="10.32" lengthAdjust="spacingAndGlyphs">(</text>
<text x="1431.36" y="392" font-family="'Liberation Serif', 'Times New Roman', serif" font-size="32.17" font-style="italic" textLength="15.86" lengthAdjust="spacingAndGlyphs">x</text>
<text x="1451.68" y="396.5" font-family="'Liberation Serif', 'Times New Roman', serif" font-size="25.34" font-style="italic" textLength="20.1" lengthAdjust="spacingAndGlyphs">D</text>
<text x="1476.58" y="391.49" font-family="'Liberation Serif', 'Times New Roman', serif" font-size="36.81" textLength="10.25" lengthAdjust="spacingAndGlyphs">)</text>
<text x="1489.74" y="391.65" font-family="'Liberation Serif', 'Times New Roman', serif" font-size="35.11" font-style="italic" textLength="15.33" lengthAdjust="spacingAndGlyphs">τ</text>
<text x="1562.71" y="403.4" font-family="'Liberation Serif', 'Times New Roman', serif" font-size="50.15" font-style="italic" textLength="28.99" lengthAdjust="spacingAndGlyphs">A</text>
<text x="1596.29" y="403.94" font-family="'Liberation Serif', 'Times New Roman', serif" font-size="51.43" textLength="14.11" lengthAdjust="spacingAndGlyphs">(</text>
<text x="1613.75" y="403.8" font-family="'Liberation Serif', 'Times New Roman', serif" font-size="47.17" font-style="italic" font-weight="bold" textLength="27.73" lengthAdjust="spacingAndGlyphs">x</text>
<text x="1643.75" y="403.94" font-family="'Liberation Serif', 'Times New Roman', serif" font-size="51.43" textLength="13.83" lengthAdjust="spacingAndGlyphs">)</text>
<defs><clipPath id="cclip"><rect x="126.4" y="629.2" width="542.7" height="580.9"/></clipPath></defs>
<g clip-path="url(#cclip)">
<polyline points="151.07,1149.9 154.92,1146.23 158.78,1143.12 162.63,1141.16 165.05,1139.97 170.34,1137.68 176.01,1132.02 178.05,1129.65 181.9,1127.76 184.51,1126.65 189.61,1114.4 193,1105.19 198.49,1096.25 201.18,1092.31 205.06,1088.3 209.45,1070.42 212.74,1060.49 216.85,1050.55 220.14,1044.59 224.52,1034.65 228.91,1022.73 231.92,1014.78 236.31,990.94 240.15,984.98 243.98,967.1 248.1,959.15 251.39,943.25 255.77,921.4 259.06,917.42 263.17,907.49 267.01,885.63 270.57,855.82 274.68,865.76 278.79,855.82 281.81,829.99 287.02,828.01 290.31,804.16 293.32,796.21 297.71,780.32 301.82,772.37 305.38,760.45 309.49,752.5 313.33,736.6 316.89,726.67 320.46,718.72 324.84,716.73 328.4,708.79 332.79,700.84 336.08,688.92 339.37,684.94 343.48,680.97 347.04,676.99 351.98,671.03 356.09,669.05 360.2,665.07 364.58,663.09 368.7,661.1 370.77,659.66 372.81,659.11 376.92,656.13 381.3,655.14 386.19,654.79 389.53,655.14 393.9,655.1 399.67,655.14 401.6,655.89 405.15,659.11 410.91,658.12 413.17,661.04 416.39,663.09 421.05,661.1 424.34,669.05 428.72,667.06 433.38,673.02 437.77,676.99 441.06,678.98 444.62,686.93 449,690.9 452.29,694.88 455.86,704.81 460.24,718.72 463.53,722.7 467.92,722.7 471.48,734.62 474.77,750.51 478.61,760.45 482.72,772.37 486.83,782.31 490.39,798.2 494.5,802.18 498.34,818.07 502.18,829.99 506.29,853.84 510.13,847.88 513.69,863.77 518.08,867.75 521.37,897.55 524.93,913.45 528.8,919.07 533.42,925.37 536.44,941.27 540.83,959.15 544.22,969.56 546.31,975.04 552.34,990.94 555.9,1006.84 560.29,1022.73 564.67,1040.62 567.34,1042.43 570.98,1046.58 575.36,1066.45 579.75,1074.39 583.86,1084.33 587.15,1088.3 590.44,1100.23 594.82,1110.16 598.18,1112.82 602.22,1116.12 605.89,1120.9 608.8,1124.07 615.38,1134 617.45,1136.85 621.31,1139.8 625.16,1143.05 628.26,1145.93 632.87,1150.57 636.76,1153.87 640.58,1151.47 644.43,1151.89" fill="none" stroke="#1f77b4" stroke-width="1.5" stroke-linejoin="round"/>
<use href="#m0" x="151.07" y="1149.9"/>
<use href="#m0" x="154.92" y="1146.23"/>
<use href="#m0" x="158.78" y="1143.12"/>
<use href="#m0" x="162.63" y="1141.16"/>
<use href="#m0" x="165.05" y="1139.97"/>
<use href="#m0" x="170.34" y="1137.68"/>
<use href="#m0" x="176.01" y="1132.02"/>
<use href="#m0" x="178.05" y="1129.65"/>
<use href="#m0" x="181.9" y="1127.76"/>
<use href="#m0" x="184.51" y="1126.65"/>
<use href="#m0" x="189.61" y="1114.4"/>
<use href="#m0" x="193" y="1105.19"/>
<use href="#m0" x="198.49" y="1096.25"/>
<use href="#m0" x="201.18" y="1092.31"/>
<use href="#m0" x="205.06" y="1088.3"/>
<use href="#m0" x="209.45" y="1070.42"/>
<use href="#m0" x="212.74" y="1060.49"/>
<use href="#m0" x="216.85" y="1050.55"/>
<use href="#m0" x="220.14" y="1044.59"/>
<use href="#m0" x="224.52" y="1034.65"/>
<use href="#m0" x="228.91" y="1022.73"/>
<use href="#m0" x="231.92" y="1014.78"/>
<use href="#m0" x="236.31" y="990.94"/>
<use href="#m0" x="240.15" y="984.98"/>
<use href="#m0" x="243.98" y="967.1"/>
<use href="#m0" x="248.1" y="959.15"/>
<use href="#m0" x="251.39" y="943.25"/>
<use href="#m0" x="255.77" y="921.4"/>
<use href="#m0" x="259.06" y="917.42"/>
<use href="#m0" x="263.17" y="907.49"/>
<use href="#m0" x="267.01" y="885.63"/>
<use href="#m0" x="270.57" y="855.82"/>
<use href="#m0" x="274.68" y="865.76"/>
<use href="#m0" x="278.79" y="855.82"/>
<use href="#m0" x="281.81" y="829.99"/>
<use href="#m0" x="287.02" y="828.01"/>
<use href="#m0" x="290.31" y="804.16"/>
<use href="#m0" x="293.32" y="796.21"/>
<use href="#m0" x="297.71" y="780.32"/>
<use href="#m0" x="301.82" y="772.37"/>
<use href="#m0" x="305.38" y="760.45"/>
<use href="#m0" x="309.49" y="752.5"/>
<use href="#m0" x="313.33" y="736.6"/>
<use href="#m0" x="316.89" y="726.67"/>
<use href="#m0" x="320.46" y="718.72"/>
<use href="#m0" x="324.84" y="716.73"/>
<use href="#m0" x="328.4" y="708.79"/>
<use href="#m0" x="332.79" y="700.84"/>
<use href="#m0" x="336.08" y="688.92"/>
<use href="#m0" x="339.37" y="684.94"/>
<use href="#m0" x="343.48" y="680.97"/>
<use href="#m0" x="347.04" y="676.99"/>
<use href="#m0" x="351.98" y="671.03"/>
<use href="#m0" x="356.09" y="669.05"/>
<use href="#m0" x="360.2" y="665.07"/>
<use href="#m0" x="364.58" y="663.09"/>
<use href="#m0" x="368.7" y="661.1"/>
<use href="#m0" x="370.77" y="659.66"/>
<use href="#m0" x="372.81" y="659.11"/>
<use href="#m0" x="376.92" y="656.13"/>
<use href="#m0" x="381.3" y="655.14"/>
<use href="#m0" x="386.19" y="654.79"/>
<use href="#m0" x="389.53" y="655.14"/>
<use href="#m0" x="393.9" y="655.1"/>
<use href="#m0" x="399.67" y="655.14"/>
<use href="#m0" x="401.6" y="655.89"/>
<use href="#m0" x="405.15" y="659.11"/>
<use href="#m0" x="410.91" y="658.12"/>
<use href="#m0" x="413.17" y="661.04"/>
<use href="#m0" x="416.39" y="663.09"/>
<use href="#m0" x="421.05" y="661.1"/>
<use href="#m0" x="424.34" y="669.05"/>
<use href="#m0" x="428.72" y="667.06"/>
<use href="#m0" x="433.38" y="673.02"/>
<use href="#m0" x="437.77" y="676.99"/>
<use href="#m0" x="441.06" y="678.98"/>
<use href="#m0" x="444.62" y="686.93"/>
<use href="#m0" x="449" y="690.9"/>
<use href="#m0" x="452.29" y="694.88"/>
<use href="#m0" x="455.86" y="704.81"/>
<use href="#m0" x="460.24" y="718.72"/>
<use href="#m0" x="463.53" y="722.7"/>
<use href="#m0" x="467.92" y="722.7"/>
<use href="#m0" x="471.48" y="734.62"/>
<use href="#m0" x="474.77" y="750.51"/>
<use href="#m0" x="478.61" y="760.45"/>
<use href="#m0" x="482.72" y="772.37"/>
<use href="#m0" x="486.83" y="782.31"/>
<use href="#m0" x="490.39" y="798.2"/>
<use href="#m0" x="494.5" y="802.18"/>
<use href="#m0" x="498.34" y="818.07"/>
<use href="#m0" x="502.18" y="829.99"/>
<use href="#m0" x="506.29" y="853.84"/>
<use href="#m0" x="510.13" y="847.88"/>
<use href="#m0" x="513.69" y="863.77"/>
<use href="#m0" x="518.08" y="867.75"/>
<use href="#m0" x="521.37" y="897.55"/>
<use href="#m0" x="524.93" y="913.45"/>
<use href="#m0" x="528.8" y="919.07"/>
<use href="#m0" x="533.42" y="925.37"/>
<use href="#m0" x="536.44" y="941.27"/>
<use href="#m0" x="540.83" y="959.15"/>
<use href="#m0" x="544.22" y="969.56"/>
<use href="#m0" x="546.31" y="975.04"/>
<use href="#m0" x="552.34" y="990.94"/>
<use href="#m0" x="555.9" y="1006.84"/>
<use href="#m0" x="560.29" y="1022.73"/>
<use href="#m0" x="564.67" y="1040.62"/>
<use href="#m0" x="567.34" y="1042.43"/>
<use href="#m0" x="570.98" y="1046.58"/>
<use href="#m0" x="575.36" y="1066.45"/>
<use href="#m0" x="579.75" y="1074.39"/>
<use href="#m0" x="583.86" y="1084.33"/>
<use href="#m0" x="587.15" y="1088.3"/>
<use href="#m0" x="590.44" y="1100.23"/>
<use href="#m0" x="594.82" y="1110.16"/>
<use href="#m0" x="598.18" y="1112.82"/>
<use href="#m0" x="602.22" y="1116.12"/>
<use href="#m0" x="605.89" y="1120.9"/>
<use href="#m0" x="608.8" y="1124.07"/>
<use href="#m0" x="615.38" y="1134"/>
<use href="#m0" x="617.45" y="1136.85"/>
<use href="#m0" x="621.31" y="1139.8"/>
<use href="#m0" x="625.16" y="1143.05"/>
<use href="#m0" x="628.26" y="1145.93"/>
<use href="#m0" x="632.87" y="1150.57"/>
<use href="#m0" x="636.76" y="1153.87"/>
<use href="#m0" x="640.58" y="1151.47"/>
<use href="#m0" x="644.43" y="1151.89"/>
<polyline points="151.07,1155.86 154.92,1155.07 158.74,1154.87 162.63,1154.7 166.49,1153.78 169.43,1152.68 174.19,1153.42 179.03,1148.31 181.9,1143.33 185.76,1140.3 188.89,1138.57 194.1,1132.02 197.32,1124.23 199.58,1118.11 205.03,1117.19 208.35,1118.11 212.74,1108.79 214.66,1105.19 216.59,1100.59 220.14,1090.29 224.52,1084.33 227.81,1074.39 231.92,1081.35 236.31,1060.49 239.72,1058.29 242.89,1058.5 247,1038.63 251.28,1039 253.58,1038.63 259.06,1020.75 263.17,1006.84 267.56,998.89 270.85,986.97 275.23,971.07 278.26,957.13 281.54,941.27 285.92,959.15 290.31,933.32 294.69,925.37 298.8,915.43 301.39,905.52 304.01,893.58 309.77,887.62 313.33,859.8 317.44,856.82 320.46,837.94 324.84,818.07 327.86,831.98 331.97,808.14 336.08,778.33 340.46,775.35 344.58,772.37 347.59,755.48 351.98,746.54 356.09,742.57 359.1,735.61 363.49,722.7 366.91,724.31 369.79,726.67 374.73,718.72 379.11,706.8 382.33,701.53 386.24,694.88 390.04,696.62 392.54,698.85 397.75,692.89 401.86,688.92 406.25,694.88 409.31,696.66 412,696.86 417.48,698.85 422.14,704.81 424.73,705.44 428.72,706.8 432.44,716.85 434.48,720.71 439.96,746.54 444.62,734.62 447.91,754.49 452.29,742.57 455.86,768.4 459.15,778.33 463.53,796.21 466.82,816.08 471.48,822.05 474.77,845.89 479.15,853.84 482.72,863.77 486.01,883.64 490.39,871.72 493.96,889.6 498.34,907.49 501.9,921.4 505.19,947.23 509.58,951.2 513.42,967.1 516.98,981.01 521.37,988.95 524.65,1008.82 529.04,1016.77 533.42,1024.72 536.44,1038.63 541.92,1048.56 545.21,1054.52 548.5,1068.43 553.71,1084.33 555.78,1086.14 558.09,1090.29 563.58,1092.28 567.69,1116.12 571.2,1120.14 574.26,1124.07 578.65,1134 582.76,1140.09 584.95,1143.94 590.44,1149.9 594.32,1153.52 597.01,1156.85 602.22,1165.8 605.89,1168.11 608.8,1167.78 613.19,1173.74 617.45,1176.04 619.49,1178.51 625.16,1177.47 628.26,1180.7 632.87,1183.46 636.21,1182.09 640.58,1184.15 644.43,1182.09" fill="none" stroke="#ff7f0e" stroke-width="1.5" stroke-linejoin="round"/>
<use href="#m1" x="151.07" y="1155.86"/>
<use href="#m1" x="154.92" y="1155.07"/>
<use href="#m1" x="158.74" y="1154.87"/>
<use href="#m1" x="162.63" y="1154.7"/>
<use href="#m1" x="166.49" y="1153.78"/>
<use href="#m1" x="169.43" y="1152.68"/>
<use href="#m1" x="174.19" y="1153.42"/>
<use href="#m1" x="179.03" y="1148.31"/>
<use href="#m1" x="181.9" y="1143.33"/>
<use href="#m1" x="185.76" y="1140.3"/>
<use href="#m1" x="188.89" y="1138.57"/>
<use href="#m1" x="194.1" y="1132.02"/>
<use href="#m1" x="197.32" y="1124.23"/>
<use href="#m1" x="199.58" y="1118.11"/>
<use href="#m1" x="205.03" y="1117.19"/>
<use href="#m1" x="208.35" y="1118.11"/>
<use href="#m1" x="212.74" y="1108.79"/>
<use href="#m1" x="214.66" y="1105.19"/>
<use href="#m1" x="216.59" y="1100.59"/>
<use href="#m1" x="220.14" y="1090.29"/>
<use href="#m1" x="224.52" y="1084.33"/>
<use href="#m1" x="227.81" y="1074.39"/>
<use href="#m1" x="231.92" y="1081.35"/>
<use href="#m1" x="236.31" y="1060.49"/>
<use href="#m1" x="239.72" y="1058.29"/>
<use href="#m1" x="242.89" y="1058.5"/>
<use href="#m1" x="247" y="1038.63"/>
<use href="#m1" x="251.28" y="1039"/>
<use href="#m1" x="253.58" y="1038.63"/>
<use href="#m1" x="259.06" y="1020.75"/>
<use href="#m1" x="263.17" y="1006.84"/>
<use href="#m1" x="267.56" y="998.89"/>
<use href="#m1" x="270.85" y="986.97"/>
<use href="#m1" x="275.23" y="971.07"/>
<use href="#m1" x="278.26" y="957.13"/>
<use href="#m1" x="281.54" y="941.27"/>
<use href="#m1" x="285.92" y="959.15"/>
<use href="#m1" x="290.31" y="933.32"/>
<use href="#m1" x="294.69" y="925.37"/>
<use href="#m1" x="298.8" y="915.43"/>
<use href="#m1" x="301.39" y="905.52"/>
<use href="#m1" x="304.01" y="893.58"/>
<use href="#m1" x="309.77" y="887.62"/>
<use href="#m1" x="313.33" y="859.8"/>
<use href="#m1" x="317.44" y="856.82"/>
<use href="#m1" x="320.46" y="837.94"/>
<use href="#m1" x="324.84" y="818.07"/>
<use href="#m1" x="327.86" y="831.98"/>
<use href="#m1" x="331.97" y="808.14"/>
<use href="#m1" x="336.08" y="778.33"/>
<use href="#m1" x="340.46" y="775.35"/>
<use href="#m1" x="344.58" y="772.37"/>
<use href="#m1" x="347.59" y="755.48"/>
<use href="#m1" x="351.98" y="746.54"/>
<use href="#m1" x="356.09" y="742.57"/>
<use href="#m1" x="359.1" y="735.61"/>
<use href="#m1" x="363.49" y="722.7"/>
<use href="#m1" x="366.91" y="724.31"/>
<use href="#m1" x="369.79" y="726.67"/>
<use href="#m1" x="374.73" y="718.72"/>
<use href="#m1" x="379.11" y="706.8"/>
<use href="#m1" x="382.33" y="701.53"/>
<use href="#m1" x="386.24" y="694.88"/>
<use href="#m1" x="390.04" y="696.62"/>
<use href="#m1" x="392.54" y="698.85"/>
<use href="#m1" x="397.75" y="692.89"/>
<use href="#m1" x="401.86" y="688.92"/>
<use href="#m1" x="406.25" y="694.88"/>
<use href="#m1" x="409.31" y="696.66"/>
<use href="#m1" x="412" y="696.86"/>
<use href="#m1" x="417.48" y="698.85"/>
<use href="#m1" x="422.14" y="704.81"/>
<use href="#m1" x="424.73" y="705.44"/>
<use href="#m1" x="428.72" y="706.8"/>
<use href="#m1" x="432.44" y="716.85"/>
<use href="#m1" x="434.48" y="720.71"/>
<use href="#m1" x="439.96" y="746.54"/>
<use href="#m1" x="444.62" y="734.62"/>
<use href="#m1" x="447.91" y="754.49"/>
<use href="#m1" x="452.29" y="742.57"/>
<use href="#m1" x="455.86" y="768.4"/>
<use href="#m1" x="459.15" y="778.33"/>
<use href="#m1" x="463.53" y="796.21"/>
<use href="#m1" x="466.82" y="816.08"/>
<use href="#m1" x="471.48" y="822.05"/>
<use href="#m1" x="474.77" y="845.89"/>
<use href="#m1" x="479.15" y="853.84"/>
<use href="#m1" x="482.72" y="863.77"/>
<use href="#m1" x="486.01" y="883.64"/>
<use href="#m1" x="490.39" y="871.72"/>
<use href="#m1" x="493.96" y="889.6"/>
<use href="#m1" x="498.34" y="907.49"/>
<use href="#m1" x="501.9" y="921.4"/>
<use href="#m1" x="505.19" y="947.23"/>
<use href="#m1" x="509.58" y="951.2"/>
<use href="#m1" x="513.42" y="967.1"/>
<use href="#m1" x="516.98" y="981.01"/>
<use href="#m1" x="521.37" y="988.95"/>
<use href="#m1" x="524.65" y="1008.82"/>
<use href="#m1" x="529.04" y="1016.77"/>
<use href="#m1" x="533.42" y="1024.72"/>
<use href="#m1" x="536.44" y="1038.63"/>
<use href="#m1" x="541.92" y="1048.56"/>
<use href="#m1" x="545.21" y="1054.52"/>
<use href="#m1" x="548.5" y="1068.43"/>
<use href="#m1" x="553.71" y="1084.33"/>
<use href="#m1" x="555.78" y="1086.14"/>
<use href="#m1" x="558.09" y="1090.29"/>
<use href="#m1" x="563.58" y="1092.28"/>
<use href="#m1" x="567.69" y="1116.12"/>
<use href="#m1" x="571.2" y="1120.14"/>
<use href="#m1" x="574.26" y="1124.07"/>
<use href="#m1" x="578.65" y="1134"/>
<use href="#m1" x="582.76" y="1140.09"/>
<use href="#m1" x="584.95" y="1143.94"/>
<use href="#m1" x="590.44" y="1149.9"/>
<use href="#m1" x="594.32" y="1153.52"/>
<use href="#m1" x="597.01" y="1156.85"/>
<use href="#m1" x="602.22" y="1165.8"/>
<use href="#m1" x="605.89" y="1168.11"/>
<use href="#m1" x="608.8" y="1167.78"/>
<use href="#m1" x="613.19" y="1173.74"/>
<use href="#m1" x="617.45" y="1176.04"/>
<use href="#m1" x="619.49" y="1178.51"/>
<use href="#m1" x="625.16" y="1177.47"/>
<use href="#m1" x="628.26" y="1180.7"/>
<use href="#m1" x="632.87" y="1183.46"/>
<use href="#m1" x="636.21" y="1182.09"/>
<use href="#m1" x="640.58" y="1184.15"/>
<use href="#m1" x="644.43" y="1182.09"/>
<polyline points="151.07,1121.29 154.92,1120.09 158.74,1123.47 162.63,1125.72 166.49,1121.39 169.43,1121.29 174.19,1120.02 178.05,1118.3 180.12,1116.92 185.76,1115.03 191.09,1112.74 193.47,1114.66 197.32,1111.74 201.77,1110.56 205.03,1110.65 208.88,1104.53 212.74,1107.38 216.59,1105.25 220.45,1104.07 223.43,1102.21 228.16,1100.44 232.01,1099.18 234.12,1097.44 239.72,1097.66 244.81,1095.46 247.43,1093.78 251.28,1089.6 253.58,1088.3 258.99,1083.56 264.27,1078.37 266.7,1075.46 270.55,1074.05 275.23,1070.42 278.26,1067.25 282.12,1061.45 284.82,1060.49 290.31,1044.59 294.69,1036.64 297.54,1030.61 301,1024.72 305.24,1020.83 307.57,1017.76 313.88,1004.85 316.81,999.76 320.46,992.93 324.84,977.03 328.13,971.07 333.34,943.25 336.35,911.46 339.64,923.38 344.85,903.51 347.87,899.54 351.98,877.68 356.09,875.69 359.38,865.76 363.49,824.03 367.6,831.98 370.89,849.86 374.73,794.23 378.48,795.95 381.03,798.2 385.14,804.16 390.35,798.2 393.64,776.34 397.75,770.38 401.86,752.5 405.97,774.36 410.36,774.36 413.37,794.23 418.58,792.24 420.88,794.37 424.73,804.45 426.8,808.14 434.2,829.99 436.29,837.86 440.23,851.85 442.43,841.92 447.63,867.75 451.75,873.71 455.86,891.59 459.42,901.53 463.26,921.4 466.82,927.36 472.85,955.17 474.84,959.12 480.53,975.04 482.55,983.75 486.83,998.89 491.22,1002.86 494.11,1008.46 496.7,1012.8 501.9,1032.67 507.39,1040.62 509.53,1042.67 512.87,1048.56 517.24,1058.89 519.17,1064.46 521.09,1066.44 524.65,1070.42 528.8,1073.54 530.96,1076.38 537.54,1088.3 540.36,1093.81 544.11,1093.27 548.07,1094.67 550.42,1097.44 555.78,1102.72 559.19,1104.2 563.49,1108.2 567.69,1108.17 571.2,1110.23 576.46,1114.13 578.91,1114.44 582.76,1117.61 584.95,1118.11 590.47,1121.89 593.73,1122.08 598.18,1124.13 602.22,1126.06 605.89,1127.28 610.99,1128.84 613.6,1128.14 617.45,1130.36 619.49,1132.02 625.16,1133.07 628.26,1134 632.87,1133.63 636.72,1136 640.58,1137.66 644.43,1137.58" fill="none" stroke="#2ca02c" stroke-width="1.5" stroke-linejoin="round"/>
<use href="#m2" x="151.07" y="1121.29"/>
<use href="#m2" x="154.92" y="1120.09"/>
<use href="#m2" x="158.74" y="1123.47"/>
<use href="#m2" x="162.63" y="1125.72"/>
<use href="#m2" x="166.49" y="1121.39"/>
<use href="#m2" x="169.43" y="1121.29"/>
<use href="#m2" x="174.19" y="1120.02"/>
<use href="#m2" x="178.05" y="1118.3"/>
<use href="#m2" x="180.12" y="1116.92"/>
<use href="#m2" x="185.76" y="1115.03"/>
<use href="#m2" x="191.09" y="1112.74"/>
<use href="#m2" x="193.47" y="1114.66"/>
<use href="#m2" x="197.32" y="1111.74"/>
<use href="#m2" x="201.77" y="1110.56"/>
<use href="#m2" x="205.03" y="1110.65"/>
<use href="#m2" x="208.88" y="1104.53"/>
<use href="#m2" x="212.74" y="1107.38"/>
<use href="#m2" x="216.59" y="1105.25"/>
<use href="#m2" x="220.45" y="1104.07"/>
<use href="#m2" x="223.43" y="1102.21"/>
<use href="#m2" x="228.16" y="1100.44"/>
<use href="#m2" x="232.01" y="1099.18"/>
<use href="#m2" x="234.12" y="1097.44"/>
<use href="#m2" x="239.72" y="1097.66"/>
<use href="#m2" x="244.81" y="1095.46"/>
<use href="#m2" x="247.43" y="1093.78"/>
<use href="#m2" x="251.28" y="1089.6"/>
<use href="#m2" x="253.58" y="1088.3"/>
<use href="#m2" x="258.99" y="1083.56"/>
<use href="#m2" x="264.27" y="1078.37"/>
<use href="#m2" x="266.7" y="1075.46"/>
<use href="#m2" x="270.55" y="1074.05"/>
<use href="#m2" x="275.23" y="1070.42"/>
<use href="#m2" x="278.26" y="1067.25"/>
<use href="#m2" x="282.12" y="1061.45"/>
<use href="#m2" x="284.82" y="1060.49"/>
<use href="#m2" x="290.31" y="1044.59"/>
<use href="#m2" x="294.69" y="1036.64"/>
<use href="#m2" x="297.54" y="1030.61"/>
<use href="#m2" x="301" y="1024.72"/>
<use href="#m2" x="305.24" y="1020.83"/>
<use href="#m2" x="307.57" y="1017.76"/>
<use href="#m2" x="313.88" y="1004.85"/>
<use href="#m2" x="316.81" y="999.76"/>
<use href="#m2" x="320.46" y="992.93"/>
<use href="#m2" x="324.84" y="977.03"/>
<use href="#m2" x="328.13" y="971.07"/>
<use href="#m2" x="333.34" y="943.25"/>
<use href="#m2" x="336.35" y="911.46"/>
<use href="#m2" x="339.64" y="923.38"/>
<use href="#m2" x="344.85" y="903.51"/>
<use href="#m2" x="347.87" y="899.54"/>
<use href="#m2" x="351.98" y="877.68"/>
<use href="#m2" x="356.09" y="875.69"/>
<use href="#m2" x="359.38" y="865.76"/>
<use href="#m2" x="363.49" y="824.03"/>
<use href="#m2" x="367.6" y="831.98"/>
<use href="#m2" x="370.89" y="849.86"/>
<use href="#m2" x="374.73" y="794.23"/>
<use href="#m2" x="378.48" y="795.95"/>
<use href="#m2" x="381.03" y="798.2"/>
<use href="#m2" x="385.14" y="804.16"/>
<use href="#m2" x="390.35" y="798.2"/>
<use href="#m2" x="393.64" y="776.34"/>
<use href="#m2" x="397.75" y="770.38"/>
<use href="#m2" x="401.86" y="752.5"/>
<use href="#m2" x="405.97" y="774.36"/>
<use href="#m2" x="410.36" y="774.36"/>
<use href="#m2" x="413.37" y="794.23"/>
<use href="#m2" x="418.58" y="792.24"/>
<use href="#m2" x="420.88" y="794.37"/>
<use href="#m2" x="424.73" y="804.45"/>
<use href="#m2" x="426.8" y="808.14"/>
<use href="#m2" x="434.2" y="829.99"/>
<use href="#m2" x="436.29" y="837.86"/>
<use href="#m2" x="440.23" y="851.85"/>
<use href="#m2" x="442.43" y="841.92"/>
<use href="#m2" x="447.63" y="867.75"/>
<use href="#m2" x="451.75" y="873.71"/>
<use href="#m2" x="455.86" y="891.59"/>
<use href="#m2" x="459.42" y="901.53"/>
<use href="#m2" x="463.26" y="921.4"/>
<use href="#m2" x="466.82" y="927.36"/>
<use href="#m2" x="472.85" y="955.17"/>
<use href="#m2" x="474.84" y="959.12"/>
<use href="#m2" x="480.53" y="975.04"/>
<use href="#m2" x="482.55" y="983.75"/>
<use href="#m2" x="486.83" y="998.89"/>
<use href="#m2" x="491.22" y="1002.86"/>
<use href="#m2" x="494.11" y="1008.46"/>
<use href="#m2" x="496.7" y="1012.8"/>
<use href="#m2" x="501.9" y="1032.67"/>
<use href="#m2" x="507.39" y="1040.62"/>
<use href="#m2" x="509.53" y="1042.67"/>
<use href="#m2" x="512.87" y="1048.56"/>
<use href="#m2" x="517.24" y="1058.89"/>
<use href="#m2" x="519.17" y="1064.46"/>
<use href="#m2" x="521.09" y="1066.44"/>
<use href="#m2" x="524.65" y="1070.42"/>
<use href="#m2" x="528.8" y="1073.54"/>
<use href="#m2" x="530.96" y="1076.38"/>
<use href="#m2" x="537.54" y="1088.3"/>
<use href="#m2" x="540.36" y="1093.81"/>
<use href="#m2" x="544.11" y="1093.27"/>
<use href="#m2" x="548.07" y="1094.67"/>
<use href="#m2" x="550.42" y="1097.44"/>
<use href="#m2" x="555.78" y="1102.72"/>
<use href="#m2" x="559.19" y="1104.2"/>
<use href="#m2" x="563.49" y="1108.2"/>
<use href="#m2" x="567.69" y="1108.17"/>
<use href="#m2" x="571.2" y="1110.23"/>
<use href="#m2" x="576.46" y="1114.13"/>
<use href="#m2" x="578.91" y="1114.44"/>
<use href="#m2" x="582.76" y="1117.61"/>
<use href="#m2" x="584.95" y="1118.11"/>
<use href="#m2" x="590.47" y="1121.89"/>
<use href="#m2" x="593.73" y="1122.08"/>
<use href="#m2" x="598.18" y="1124.13"/>
<use href="#m2" x="602.22" y="1126.06"/>
<use href="#m2" x="605.89" y="1127.28"/>
<use href="#m2" x="610.99" y="1128.84"/>
<use href="#m2" x="613.6" y="1128.14"/>
<use href="#m2" x="617.45" y="1130.36"/>
<use href="#m2" x="619.49" y="1132.02"/>
<use href="#m2" x="625.16" y="1133.07"/>
<use href="#m2" x="628.26" y="1134"/>
<use href="#m2" x="632.87" y="1133.63"/>
<use href="#m2" x="636.72" y="1136"/>
<use href="#m2" x="640.58" y="1137.66"/>
<use href="#m2" x="644.43" y="1137.58"/>
<polyline points="151.07,1145.93 154.92,1146.2 158.78,1145.24 162.63,1142.65 166.49,1143.45 169.43,1143.94 174.19,1145.02 178.05,1142.36 181.9,1142.39 185.76,1140.77 191.09,1139.97 193.47,1141.23 197.32,1137.96 201.18,1136.91 205.03,1134.25 208.88,1134.69 212.74,1134 216.59,1131.53 220.45,1132.06 223.43,1128.84 228.16,1125.19 232.01,1129.37 234.12,1126.65 239.72,1124.19 244.81,1124.47 247.43,1123.81 251.28,1122.93 255.77,1120.1 258.99,1118.66 262.85,1116.03 266.46,1112.74 270.55,1115.26 275.23,1119.1 278.26,1114.44 282.12,1106.45 285.92,1102.21 289.83,1100.85 294.69,1094.26 297.54,1092.27 303.19,1088.3 305.24,1086.51 309.77,1079.16 313.88,1060.49 316.81,1056.91 320.46,1054.52 324.52,1053.9 328.13,1048.56 332.24,1022.73 337.72,1008.82 339.93,1011.24 342.11,1012.8 348.69,979.02 351.5,970.71 355.27,960.14 359.38,949.21 362.39,921.4 366.5,937.29 370.89,951.2 374.73,903.51 379.11,887.62 383.22,895.56 386.24,911.46 390.35,907.49 393.64,893.58 397.75,909.47 401.86,877.68 405.46,902.13 408.17,917.42 413.37,943.25 417.02,942.08 419.68,943.25 426.53,963.12 428.59,968.74 432.83,981.01 436.29,984.82 438.32,988.95 443.8,998.89 447.86,1009.26 450.1,1016.77 456.68,1032.67 459.97,1038.63 463.27,1046.05 466.27,1050.55 471.75,1072.41 474.84,1071.12 477.24,1068.43 483.54,1084.33 486.4,1086.52 490.26,1088 492.31,1090.29 498.62,1102.21 501.82,1102.29 507.39,1105.19 509.53,1109.08 513.69,1114.13 517.24,1116.36 520.27,1116.92 524.95,1119.8 527.94,1120.1 533.42,1122.08 536.51,1119.86 539.73,1116.12 544.22,1123.59 546.31,1126.65 551.93,1126.42 554.8,1126.06 559.63,1125.13 563.58,1128.84 567.34,1130.41 572.07,1131.02 575.05,1132.85 578.91,1133.88 580.84,1135.39 582.76,1137.02 586.62,1137.32 589.34,1137.58 594.32,1140.03 598.18,1141.02 602.22,1143.94 605.89,1146.73 609.74,1144.8 615.38,1148.31 617.45,1149.24 621.31,1149.57 625.16,1149.71 628.26,1151.49 632.87,1150.38 636.72,1149.64 640.58,1150.43 644.43,1150.3" fill="none" stroke="#d62728" stroke-width="1.5" stroke-linejoin="round"/>
<use href="#m3" x="151.07" y="1145.93"/>
<use href="#m3" x="154.92" y="1146.2"/>
<use href="#m3" x="158.78" y="1145.24"/>
<use href="#m3" x="162.63" y="1142.65"/>
<use href="#m3" x="166.49" y="1143.45"/>
<use href="#m3" x="169.43" y="1143.94"/>
<use href="#m3" x="174.19" y="1145.02"/>
<use href="#m3" x="178.05" y="1142.36"/>
<use href="#m3" x="181.9" y="1142.39"/>
<use href="#m3" x="185.76" y="1140.77"/>
<use href="#m3" x="191.09" y="1139.97"/>
<use href="#m3" x="193.47" y="1141.23"/>
<use href="#m3" x="197.32" y="1137.96"/>
<use href="#m3" x="201.18" y="1136.91"/>
<use href="#m3" x="205.03" y="1134.25"/>
<use href="#m3" x="208.88" y="1134.69"/>
<use href="#m3" x="212.74" y="1134"/>
<use href="#m3" x="216.59" y="1131.53"/>
<use href="#m3" x="220.45" y="1132.06"/>
<use href="#m3" x="223.43" y="1128.84"/>
<use href="#m3" x="228.16" y="1125.19"/>
<use href="#m3" x="232.01" y="1129.37"/>
<use href="#m3" x="234.12" y="1126.65"/>
<use href="#m3" x="239.72" y="1124.19"/>
<use href="#m3" x="244.81" y="1124.47"/>
<use href="#m3" x="247.43" y="1123.81"/>
<use href="#m3" x="251.28" y="1122.93"/>
<use href="#m3" x="255.77" y="1120.1"/>
<use href="#m3" x="258.99" y="1118.66"/>
<use href="#m3" x="262.85" y="1116.03"/>
<use href="#m3" x="266.46" y="1112.74"/>
<use href="#m3" x="270.55" y="1115.26"/>
<use href="#m3" x="275.23" y="1119.1"/>
<use href="#m3" x="278.26" y="1114.44"/>
<use href="#m3" x="282.12" y="1106.45"/>
<use href="#m3" x="285.92" y="1102.21"/>
<use href="#m3" x="289.83" y="1100.85"/>
<use href="#m3" x="294.69" y="1094.26"/>
<use href="#m3" x="297.54" y="1092.27"/>
<use href="#m3" x="303.19" y="1088.3"/>
<use href="#m3" x="305.24" y="1086.51"/>
<use href="#m3" x="309.77" y="1079.16"/>
<use href="#m3" x="313.88" y="1060.49"/>
<use href="#m3" x="316.81" y="1056.91"/>
<use href="#m3" x="320.46" y="1054.52"/>
<use href="#m3" x="324.52" y="1053.9"/>
<use href="#m3" x="328.13" y="1048.56"/>
<use href="#m3" x="332.24" y="1022.73"/>
<use href="#m3" x="337.72" y="1008.82"/>
<use href="#m3" x="339.93" y="1011.24"/>
<use href="#m3" x="342.11" y="1012.8"/>
<use href="#m3" x="348.69" y="979.02"/>
<use href="#m3" x="351.5" y="970.71"/>
<use href="#m3" x="355.27" y="960.14"/>
<use href="#m3" x="359.38" y="949.21"/>
<use href="#m3" x="362.39" y="921.4"/>
<use href="#m3" x="366.5" y="937.29"/>
<use href="#m3" x="370.89" y="951.2"/>
<use href="#m3" x="374.73" y="903.51"/>
<use href="#m3" x="379.11" y="887.62"/>
<use href="#m3" x="383.22" y="895.56"/>
<use href="#m3" x="386.24" y="911.46"/>
<use href="#m3" x="390.35" y="907.49"/>
<use href="#m3" x="393.64" y="893.58"/>
<use href="#m3" x="397.75" y="909.47"/>
<use href="#m3" x="401.86" y="877.68"/>
<use href="#m3" x="405.46" y="902.13"/>
<use href="#m3" x="408.17" y="917.42"/>
<use href="#m3" x="413.37" y="943.25"/>
<use href="#m3" x="417.02" y="942.08"/>
<use href="#m3" x="419.68" y="943.25"/>
<use href="#m3" x="426.53" y="963.12"/>
<use href="#m3" x="428.59" y="968.74"/>
<use href="#m3" x="432.83" y="981.01"/>
<use href="#m3" x="436.29" y="984.82"/>
<use href="#m3" x="438.32" y="988.95"/>
<use href="#m3" x="443.8" y="998.89"/>
<use href="#m3" x="447.86" y="1009.26"/>
<use href="#m3" x="450.1" y="1016.77"/>
<use href="#m3" x="456.68" y="1032.67"/>
<use href="#m3" x="459.97" y="1038.63"/>
<use href="#m3" x="463.27" y="1046.05"/>
<use href="#m3" x="466.27" y="1050.55"/>
<use href="#m3" x="471.75" y="1072.41"/>
<use href="#m3" x="474.84" y="1071.12"/>
<use href="#m3" x="477.24" y="1068.43"/>
<use href="#m3" x="483.54" y="1084.33"/>
<use href="#m3" x="486.4" y="1086.52"/>
<use href="#m3" x="490.26" y="1088"/>
<use href="#m3" x="492.31" y="1090.29"/>
<use href="#m3" x="498.62" y="1102.21"/>
<use href="#m3" x="501.82" y="1102.29"/>
<use href="#m3" x="507.39" y="1105.19"/>
<use href="#m3" x="509.53" y="1109.08"/>
<use href="#m3" x="513.69" y="1114.13"/>
<use href="#m3" x="517.24" y="1116.36"/>
<use href="#m3" x="520.27" y="1116.92"/>
<use href="#m3" x="524.95" y="1119.8"/>
<use href="#m3" x="527.94" y="1120.1"/>
<use href="#m3" x="533.42" y="1122.08"/>
<use href="#m3" x="536.51" y="1119.86"/>
<use href="#m3" x="539.73" y="1116.12"/>
<use href="#m3" x="544.22" y="1123.59"/>
<use href="#m3" x="546.31" y="1126.65"/>
<use href="#m3" x="551.93" y="1126.42"/>
<use href="#m3" x="554.8" y="1126.06"/>
<use href="#m3" x="559.63" y="1125.13"/>
<use href="#m3" x="563.58" y="1128.84"/>
<use href="#m3" x="567.34" y="1130.41"/>
<use href="#m3" x="572.07" y="1131.02"/>
<use href="#m3" x="575.05" y="1132.85"/>
<use href="#m3" x="578.91" y="1133.88"/>
<use href="#m3" x="580.84" y="1135.39"/>
<use href="#m3" x="582.76" y="1137.02"/>
<use href="#m3" x="586.62" y="1137.32"/>
<use href="#m3" x="589.34" y="1137.58"/>
<use href="#m3" x="594.32" y="1140.03"/>
<use href="#m3" x="598.18" y="1141.02"/>
<use href="#m3" x="602.22" y="1143.94"/>
<use href="#m3" x="605.89" y="1146.73"/>
<use href="#m3" x="609.74" y="1144.8"/>
<use href="#m3" x="615.38" y="1148.31"/>
<use href="#m3" x="617.45" y="1149.24"/>
<use href="#m3" x="621.31" y="1149.57"/>
<use href="#m3" x="625.16" y="1149.71"/>
<use href="#m3" x="628.26" y="1151.49"/>
<use href="#m3" x="632.87" y="1150.38"/>
<use href="#m3" x="636.72" y="1149.64"/>
<use href="#m3" x="640.58" y="1150.43"/>
<use href="#m3" x="644.43" y="1150.3"/>
<polyline points="151.07,1140.76 154.92,1141.33 158.78,1141.66 162.63,1140.08 166.49,1138.98 170.34,1137.83 174.19,1138.76 178.05,1139.25 181.9,1139.23 185.76,1137.1 191.09,1137.58 193.47,1135.57 197.32,1137.08 201.18,1138.77 205.03,1138.34 208.88,1135.18 212.74,1136.74 216.59,1138.94 220.45,1136.87 224.3,1138.05 228.16,1137.3 232.01,1137.03 234.12,1136.39 239.72,1136.48 243.57,1134.45 247.43,1134.66 251.28,1134.77 255.14,1133.06 258.99,1132.04 262.85,1134.46 266.46,1132.02 270.55,1131.95 274.41,1132.47 277.42,1131.02 282.12,1128.12 285.97,1126.89 290.31,1122.48 293.68,1120.79 297.54,1118.96 303.19,1116.12 305.24,1115.22 309.1,1113.72 312.95,1110.57 316.07,1108.17 320.66,1103.93 322.65,1100.23 329.23,1096.25 333.34,1090.29 336.63,1078.37 339.93,1076.99 343.21,1072.41 346.5,1048.56 351.7,1048.56 356.09,1060.49 359.38,1022.73 363.76,1016.77 367.87,1014.78 371.16,1030.68 374.73,958.15 378.02,982.99 383.22,963.12 386.24,998.89 390.35,975.04 394.74,960.14 397.75,975.04 401.86,941.27 404.88,998.89 409.26,981.01 413.65,1000.88 417.76,1008.82 420.88,1014.21 423.24,1018.76 427.63,1048.56 432.83,1062.47 436.29,1062.75 439.41,1060.49 444.89,1064.46 447.91,1076.38 452.29,1086.32 455.57,1088.48 457.78,1092.28 463.26,1096.25 468.47,1104.2 470.98,1107.15 475.04,1114.13 478.69,1118.65 483.54,1119.1 486.4,1119.49 490.26,1122.09 492.31,1121.29 497.96,1123.77 503,1126.06 505.67,1126.58 509.53,1129.84 513.38,1128.58 515.88,1128.84 521.09,1130.09 524.95,1129.33 528.8,1132.59 533.42,1132.02 536.51,1131.35 540.36,1133.81 544.22,1133.17 548.07,1134.05 550.42,1133.21 555.78,1132.16 559.63,1133.7 563.49,1131.96 567.69,1135.39 571.2,1134.79 575.05,1134.73 578.91,1134.91 582.76,1136.81 586.62,1136.35 589.34,1136.39 594.32,1135.05 598.18,1137.35 602.03,1136.86 605.89,1137.32 610.99,1137.58 613.6,1137.02 617.45,1138.42 621.31,1138.41 625.16,1138.19 629.01,1138.6 632.87,1140 636.72,1138.14 640.58,1141 644.43,1139.77" fill="none" stroke="#9467bd" stroke-width="1.5" stroke-linejoin="round"/>
<use href="#m4" x="151.07" y="1140.76"/>
<use href="#m4" x="154.92" y="1141.33"/>
<use href="#m4" x="158.78" y="1141.66"/>
<use href="#m4" x="162.63" y="1140.08"/>
<use href="#m4" x="166.49" y="1138.98"/>
<use href="#m4" x="170.34" y="1137.83"/>
<use href="#m4" x="174.19" y="1138.76"/>
<use href="#m4" x="178.05" y="1139.25"/>
<use href="#m4" x="181.9" y="1139.23"/>
<use href="#m4" x="185.76" y="1137.1"/>
<use href="#m4" x="191.09" y="1137.58"/>
<use href="#m4" x="193.47" y="1135.57"/>
<use href="#m4" x="197.32" y="1137.08"/>
<use href="#m4" x="201.18" y="1138.77"/>
<use href="#m4" x="205.03" y="1138.34"/>
<use href="#m4" x="208.88" y="1135.18"/>
<use href="#m4" x="212.74" y="1136.74"/>
<use href="#m4" x="216.59" y="1138.94"/>
<use href="#m4" x="220.45" y="1136.87"/>
<use href="#m4" x="224.3" y="1138.05"/>
<use href="#m4" x="228.16" y="1137.3"/>
<use href="#m4" x="232.01" y="1137.03"/>
<use href="#m4" x="234.12" y="1136.39"/>
<use href="#m4" x="239.72" y="1136.48"/>
<use href="#m4" x="243.57" y="1134.45"/>
<use href="#m4" x="247.43" y="1134.66"/>
<use href="#m4" x="251.28" y="1134.77"/>
<use href="#m4" x="255.14" y="1133.06"/>
<use href="#m4" x="258.99" y="1132.04"/>
<use href="#m4" x="262.85" y="1134.46"/>
<use href="#m4" x="266.46" y="1132.02"/>
<use href="#m4" x="270.55" y="1131.95"/>
<use href="#m4" x="274.41" y="1132.47"/>
<use href="#m4" x="277.42" y="1131.02"/>
<use href="#m4" x="282.12" y="1128.12"/>
<use href="#m4" x="285.97" y="1126.89"/>
<use href="#m4" x="290.31" y="1122.48"/>
<use href="#m4" x="293.68" y="1120.79"/>
<use href="#m4" x="297.54" y="1118.96"/>
<use href="#m4" x="303.19" y="1116.12"/>
<use href="#m4" x="305.24" y="1115.22"/>
<use href="#m4" x="309.1" y="1113.72"/>
<use href="#m4" x="312.95" y="1110.57"/>
<use href="#m4" x="316.07" y="1108.17"/>
<use href="#m4" x="320.66" y="1103.93"/>
<use href="#m4" x="322.65" y="1100.23"/>
<use href="#m4" x="329.23" y="1096.25"/>
<use href="#m4" x="333.34" y="1090.29"/>
<use href="#m4" x="336.63" y="1078.37"/>
<use href="#m4" x="339.93" y="1076.99"/>
<use href="#m4" x="343.21" y="1072.41"/>
<use href="#m4" x="346.5" y="1048.56"/>
<use href="#m4" x="351.7" y="1048.56"/>
<use href="#m4" x="356.09" y="1060.49"/>
<use href="#m4" x="359.38" y="1022.73"/>
<use href="#m4" x="363.76" y="1016.77"/>
<use href="#m4" x="367.87" y="1014.78"/>
<use href="#m4" x="371.16" y="1030.68"/>
<use href="#m4" x="374.73" y="958.15"/>
<use href="#m4" x="378.02" y="982.99"/>
<use href="#m4" x="383.22" y="963.12"/>
<use href="#m4" x="386.24" y="998.89"/>
<use href="#m4" x="390.35" y="975.04"/>
<use href="#m4" x="394.74" y="960.14"/>
<use href="#m4" x="397.75" y="975.04"/>
<use href="#m4" x="401.86" y="941.27"/>
<use href="#m4" x="404.88" y="998.89"/>
<use href="#m4" x="409.26" y="981.01"/>
<use href="#m4" x="413.65" y="1000.88"/>
<use href="#m4" x="417.76" y="1008.82"/>
<use href="#m4" x="420.88" y="1014.21"/>
<use href="#m4" x="423.24" y="1018.76"/>
<use href="#m4" x="427.63" y="1048.56"/>
<use href="#m4" x="432.83" y="1062.47"/>
<use href="#m4" x="436.29" y="1062.75"/>
<use href="#m4" x="439.41" y="1060.49"/>
<use href="#m4" x="444.89" y="1064.46"/>
<use href="#m4" x="447.91" y="1076.38"/>
<use href="#m4" x="452.29" y="1086.32"/>
<use href="#m4" x="455.57" y="1088.48"/>
<use href="#m4" x="457.78" y="1092.28"/>
<use href="#m4" x="463.26" y="1096.25"/>
<use href="#m4" x="468.47" y="1104.2"/>
<use href="#m4" x="470.98" y="1107.15"/>
<use href="#m4" x="475.04" y="1114.13"/>
<use href="#m4" x="478.69" y="1118.65"/>
<use href="#m4" x="483.54" y="1119.1"/>
<use href="#m4" x="486.4" y="1119.49"/>
<use href="#m4" x="490.26" y="1122.09"/>
<use href="#m4" x="492.31" y="1121.29"/>
<use href="#m4" x="497.96" y="1123.77"/>
<use href="#m4" x="503" y="1126.06"/>
<use href="#m4" x="505.67" y="1126.58"/>
<use href="#m4" x="509.53" y="1129.84"/>
<use href="#m4" x="513.38" y="1128.58"/>
<use href="#m4" x="515.88" y="1128.84"/>
<use href="#m4" x="521.09" y="1130.09"/>
<use href="#m4" x="524.95" y="1129.33"/>
<use href="#m4" x="528.8" y="1132.59"/>
<use href="#m4" x="533.42" y="1132.02"/>
<use href="#m4" x="536.51" y="1131.35"/>
<use href="#m4" x="540.36" y="1133.81"/>
<use href="#m4" x="544.22" y="1133.17"/>
<use href="#m4" x="548.07" y="1134.05"/>
<use href="#m4" x="550.42" y="1133.21"/>
<use href="#m4" x="555.78" y="1132.16"/>
<use href="#m4" x="559.63" y="1133.7"/>
<use href="#m4" x="563.49" y="1131.96"/>
<use href="#m4" x="567.69" y="1135.39"/>
<use href="#m4" x="571.2" y="1134.79"/>
<use href="#m4" x="575.05" y="1134.73"/>
<use href="#m4" x="578.91" y="1134.91"/>
<use href="#m4" x="582.76" y="1136.81"/>
<use href="#m4" x="586.62" y="1136.35"/>
<use href="#m4" x="589.34" y="1136.39"/>
<use href="#m4" x="594.32" y="1135.05"/>
<use href="#m4" x="598.18" y="1137.35"/>
<use href="#m4" x="602.03" y="1136.86"/>
<use href="#m4" x="605.89" y="1137.32"/>
<use href="#m4" x="610.99" y="1137.58"/>
<use href="#m4" x="613.6" y="1137.02"/>
<use href="#m4" x="617.45" y="1138.42"/>
<use href="#m4" x="621.31" y="1138.41"/>
<use href="#m4" x="625.16" y="1138.19"/>
<use href="#m4" x="629.01" y="1138.6"/>
<use href="#m4" x="632.87" y="1140"/>
<use href="#m4" x="636.72" y="1138.14"/>
<use href="#m4" x="640.58" y="1141"/>
<use href="#m4" x="644.43" y="1139.77"/>
<polyline points="151.07,1142.95 154.92,1141.57 158.78,1140.61 162.63,1145.68 166.49,1142.71 170.34,1141.24 174.19,1140.75 178.05,1141.49 181.9,1140.39 185.76,1141.74 191.09,1141.95 193.47,1141.23 197.32,1141.57 201.18,1142.95 205.03,1142.58 208.88,1141.01 212.74,1142.04 216.59,1139.73 220.45,1139.6 224.3,1138.89 228.16,1140.96 232.01,1139.17 234.12,1140.76 239.72,1141.99 243.57,1141.99 247.43,1141.03 251.28,1140.9 255.14,1143.24 258.99,1143.51 262.85,1141.13 266.7,1142.68 270.55,1140.32 274.41,1141.4 277.42,1141.95 282.12,1140.63 285.97,1139.96 289.83,1138.35 293.68,1138.81 298.8,1137.58 301.39,1135.76 305.24,1136.91 309.1,1135.77 312.95,1135.54 316.81,1133.23 320.46,1133.21 324.52,1131.4 328.37,1130.79 332.23,1125.7 335.53,1126.65 339.93,1123.65 343.79,1120.36 346.5,1118.11 351.7,1112.15 355.35,1112.91 359.38,1114.73 363.76,1098.24 366.91,1103.41 370.07,1112.74 374.45,1092.28 378.48,1092.99 381.85,1093.27 387.33,1086.32 390.04,1083.02 393.91,1080.36 397.75,1080.36 401.59,1044.59 404.88,1086.32 409.26,1070.42 413.65,1084.33 418.86,1078.37 420.88,1079.62 423.24,1081.35 428.72,1090.29 432.83,1100.23 436.29,1105.11 439.41,1106.19 444.35,1094.26 447.91,1112.15 452.29,1108.17 455.57,1111.97 457.78,1116.12 464.35,1122.08 467.13,1122.36 472.85,1126.65 474.84,1127.93 478.69,1129.58 481.62,1131.02 486.4,1134.44 490.26,1135.77 494.5,1135.39 497.96,1136.45 501.82,1135.89 507.39,1137.58 509.53,1138.53 513.38,1138.34 517.24,1138.24 521.09,1139.99 524.65,1140.76 528.8,1140.27 532.65,1139.4 536.51,1142.79 540.36,1140.59 544.22,1143.9 546.31,1141.75 551.93,1141.55 555.78,1142.04 559.63,1143.14 563.49,1144 567.69,1142.95 571.2,1143.18 575.05,1143.77 578.91,1143.34 582.76,1144.72 586.62,1143.16 589.34,1143.94 594.32,1145.45 598.18,1144.79 602.03,1145.11 605.89,1143.34 610.99,1145.13 613.6,1146.99 617.45,1145.81 621.31,1144.02 625.16,1146.32 629.01,1147.13 632.87,1145.42 636.72,1146.22 640.58,1144.99 644.43,1146.12" fill="none" stroke="#8c564b" stroke-width="1.5" stroke-linejoin="round"/>
<use href="#m5" x="151.07" y="1142.95"/>
<use href="#m5" x="154.92" y="1141.57"/>
<use href="#m5" x="158.78" y="1140.61"/>
<use href="#m5" x="162.63" y="1145.68"/>
<use href="#m5" x="166.49" y="1142.71"/>
<use href="#m5" x="170.34" y="1141.24"/>
<use href="#m5" x="174.19" y="1140.75"/>
<use href="#m5" x="178.05" y="1141.49"/>
<use href="#m5" x="181.9" y="1140.39"/>
<use href="#m5" x="185.76" y="1141.74"/>
<use href="#m5" x="191.09" y="1141.95"/>
<use href="#m5" x="193.47" y="1141.23"/>
<use href="#m5" x="197.32" y="1141.57"/>
<use href="#m5" x="201.18" y="1142.95"/>
<use href="#m5" x="205.03" y="1142.58"/>
<use href="#m5" x="208.88" y="1141.01"/>
<use href="#m5" x="212.74" y="1142.04"/>
<use href="#m5" x="216.59" y="1139.73"/>
<use href="#m5" x="220.45" y="1139.6"/>
<use href="#m5" x="224.3" y="1138.89"/>
<use href="#m5" x="228.16" y="1140.96"/>
<use href="#m5" x="232.01" y="1139.17"/>
<use href="#m5" x="234.12" y="1140.76"/>
<use href="#m5" x="239.72" y="1141.99"/>
<use href="#m5" x="243.57" y="1141.99"/>
<use href="#m5" x="247.43" y="1141.03"/>
<use href="#m5" x="251.28" y="1140.9"/>
<use href="#m5" x="255.14" y="1143.24"/>
<use href="#m5" x="258.99" y="1143.51"/>
<use href="#m5" x="262.85" y="1141.13"/>
<use href="#m5" x="266.7" y="1142.68"/>
<use href="#m5" x="270.55" y="1140.32"/>
<use href="#m5" x="274.41" y="1141.4"/>
<use href="#m5" x="277.42" y="1141.95"/>
<use href="#m5" x="282.12" y="1140.63"/>
<use href="#m5" x="285.97" y="1139.96"/>
<use href="#m5" x="289.83" y="1138.35"/>
<use href="#m5" x="293.68" y="1138.81"/>
<use href="#m5" x="298.8" y="1137.58"/>
<use href="#m5" x="301.39" y="1135.76"/>
<use href="#m5" x="305.24" y="1136.91"/>
<use href="#m5" x="309.1" y="1135.77"/>
<use href="#m5" x="312.95" y="1135.54"/>
<use href="#m5" x="316.81" y="1133.23"/>
<use href="#m5" x="320.46" y="1133.21"/>
<use href="#m5" x="324.52" y="1131.4"/>
<use href="#m5" x="328.37" y="1130.79"/>
<use href="#m5" x="332.23" y="1125.7"/>
<use href="#m5" x="335.53" y="1126.65"/>
<use href="#m5" x="339.93" y="1123.65"/>
<use href="#m5" x="343.79" y="1120.36"/>
<use href="#m5" x="346.5" y="1118.11"/>
<use href="#m5" x="351.7" y="1112.15"/>
<use href="#m5" x="355.35" y="1112.91"/>
<use href="#m5" x="359.38" y="1114.73"/>
<use href="#m5" x="363.76" y="1098.24"/>
<use href="#m5" x="366.91" y="1103.41"/>
<use href="#m5" x="370.07" y="1112.74"/>
<use href="#m5" x="374.45" y="1092.28"/>
<use href="#m5" x="378.48" y="1092.99"/>
<use href="#m5" x="381.85" y="1093.27"/>
<use href="#m5" x="387.33" y="1086.32"/>
<use href="#m5" x="390.04" y="1083.02"/>
<use href="#m5" x="393.91" y="1080.36"/>
<use href="#m5" x="397.75" y="1080.36"/>
<use href="#m5" x="401.59" y="1044.59"/>
<use href="#m5" x="404.88" y="1086.32"/>
<use href="#m5" x="409.26" y="1070.42"/>
<use href="#m5" x="413.65" y="1084.33"/>
<use href="#m5" x="418.86" y="1078.37"/>
<use href="#m5" x="420.88" y="1079.62"/>
<use href="#m5" x="423.24" y="1081.35"/>
<use href="#m5" x="428.72" y="1090.29"/>
<use href="#m5" x="432.83" y="1100.23"/>
<use href="#m5" x="436.29" y="1105.11"/>
<use href="#m5" x="439.41" y="1106.19"/>
<use href="#m5" x="444.35" y="1094.26"/>
<use href="#m5" x="447.91" y="1112.15"/>
<use href="#m5" x="452.29" y="1108.17"/>
<use href="#m5" x="455.57" y="1111.97"/>
<use href="#m5" x="457.78" y="1116.12"/>
<use href="#m5" x="464.35" y="1122.08"/>
<use href="#m5" x="467.13" y="1122.36"/>
<use href="#m5" x="472.85" y="1126.65"/>
<use href="#m5" x="474.84" y="1127.93"/>
<use href="#m5" x="478.69" y="1129.58"/>
<use href="#m5" x="481.62" y="1131.02"/>
<use href="#m5" x="486.4" y="1134.44"/>
<use href="#m5" x="490.26" y="1135.77"/>
<use href="#m5" x="494.5" y="1135.39"/>
<use href="#m5" x="497.96" y="1136.45"/>
<use href="#m5" x="501.82" y="1135.89"/>
<use href="#m5" x="507.39" y="1137.58"/>
<use href="#m5" x="509.53" y="1138.53"/>
<use href="#m5" x="513.38" y="1138.34"/>
<use href="#m5" x="517.24" y="1138.24"/>
<use href="#m5" x="521.09" y="1139.99"/>
<use href="#m5" x="524.65" y="1140.76"/>
<use href="#m5" x="528.8" y="1140.27"/>
<use href="#m5" x="532.65" y="1139.4"/>
<use href="#m5" x="536.51" y="1142.79"/>
<use href="#m5" x="540.36" y="1140.59"/>
<use href="#m5" x="544.22" y="1143.9"/>
<use href="#m5" x="546.31" y="1141.75"/>
<use href="#m5" x="551.93" y="1141.55"/>
<use href="#m5" x="555.78" y="1142.04"/>
<use href="#m5" x="559.63" y="1143.14"/>
<use href="#m5" x="563.49" y="1144"/>
<use href="#m5" x="567.69" y="1142.95"/>
<use href="#m5" x="571.2" y="1143.18"/>
<use href="#m5" x="575.05" y="1143.77"/>
<use href="#m5" x="578.91" y="1143.34"/>
<use href="#m5" x="582.76" y="1144.72"/>
<use href="#m5" x="586.62" y="1143.16"/>
<use href="#m5" x="589.34" y="1143.94"/>
<use href="#m5" x="594.32" y="1145.45"/>
<use href="#m5" x="598.18" y="1144.79"/>
<use href="#m5" x="602.03" y="1145.11"/>
<use href="#m5" x="605.89" y="1143.34"/>
<use href="#m5" x="610.99" y="1145.13"/>
<use href="#m5" x="613.6" y="1146.99"/>
<use href="#m5" x="617.45" y="1145.81"/>
<use href="#m5" x="621.31" y="1144.02"/>
<use href="#m5" x="625.16" y="1146.32"/>
<use href="#m5" x="629.01" y="1147.13"/>
<use href="#m5" x="632.87" y="1145.42"/>
<use href="#m5" x="636.72" y="1146.22"/>
<use href="#m5" x="640.58" y="1144.99"/>
<use href="#m5" x="644.43" y="1146.12"/>
</g>
<rect x="126.4" y="629.2" width="542.7" height="580.9" fill="none" stroke="#000" stroke-width="1.6"/>
<line x1="126.4" y1="1149.9" x2="131" y2="1149.9" stroke="#000" stroke-width="1.1"/>
<text x="122.6" y="1164.7" font-family="'DejaVu Sans', sans-serif" font-size="40.5" text-anchor="end">0.0</text>
<line x1="126.4" y1="1050.55" x2="131" y2="1050.55" stroke="#000" stroke-width="1.1"/>
<text x="122.6" y="1065.35" font-family="'DejaVu Sans', sans-serif" font-size="40.5" text-anchor="end">0.5</text>
<line x1="126.4" y1="951.2" x2="131" y2="951.2" stroke="#000" stroke-width="1.1"/>
<text x="122.6" y="966" font-family="'DejaVu Sans', sans-serif" font-size="40.5" text-anchor="end">1.0</text>
<line x1="126.4" y1="851.85" x2="131" y2="851.85" stroke="#000" stroke-width="1.1"/>
<text x="122.6" y="866.65" font-family="'DejaVu Sans', sans-serif" font-size="40.5" text-anchor="end">1.5</text>
<line x1="126.4" y1="752.5" x2="131" y2="752.5" stroke="#000" stroke-width="1.1"/>
<text x="122.6" y="767.3" font-family="'DejaVu Sans', sans-serif" font-size="40.5" text-anchor="end">2.0</text>
<line x1="126.4" y1="653.15" x2="131" y2="653.15" stroke="#000" stroke-width="1.1"/>
<text x="122.6" y="667.95" font-family="'DejaVu Sans', sans-serif" font-size="40.5" text-anchor="end">2.5</text>
<line x1="260.7" y1="1210.1" x2="260.7" y2="1205.5" stroke="#000" stroke-width="1.1"/>
<text x="260.7" y="1246.3" font-family="'DejaVu Sans', sans-serif" font-size="40.5" text-anchor="middle">−50</text>
<line x1="397.75" y1="1210.1" x2="397.75" y2="1205.5" stroke="#000" stroke-width="1.1"/>
<text x="397.75" y="1246.3" font-family="'DejaVu Sans', sans-serif" font-size="40.5" text-anchor="middle">0</text>
<line x1="534.8" y1="1210.1" x2="534.8" y2="1205.5" stroke="#000" stroke-width="1.1"/>
<text x="534.8" y="1246.3" font-family="'DejaVu Sans', sans-serif" font-size="40.5" text-anchor="middle">50</text>
<text font-family="'DejaVu Sans', sans-serif" font-size="40.5" y="624.6"><tspan x="127.7">×</tspan><tspan x="161.6">1</tspan><tspan x="187.4">0</tspan><tspan x="213.6" y="608.9" font-size="28.35">7</tspan></text>
<text font-family="'DejaVu Sans', sans-serif" font-size="40.5" y="1282"><tspan x="339.5" font-style="italic">x</tspan><tspan x="363.5" y="1288.7" font-size="28.35" font-style="italic">i</tspan><tspan x="380.4" y="1282">−</tspan><tspan x="422.2" font-style="italic">x</tspan><tspan x="446.2" y="1288.7" font-size="28.35" font-style="italic">j</tspan></text>
<text font-family="'DejaVu Sans', sans-serif" font-size="40.5" text-anchor="middle" transform="translate(44.4 919) rotate(-90)">intensity [arb. units]</text>
<rect x="675" y="628.7" width="150.4" height="218.7" rx="4.5" ry="4.5" fill="#fff" fill-opacity="0.8" stroke="#cccccc" stroke-width="1.1"/>
<line x1="683.1" y1="648.1" x2="733.9" y2="648.1" stroke="#1f77b4" stroke-width="1.5"/>
<use href="#m0" x="708.5" y="648.1"/>
<text x="751.2" y="655.5" font-family="'DejaVu Sans', sans-serif" font-size="22.6" textLength="62.1" lengthAdjust="spacing">N = 1</text>
<line x1="683.1" y1="683.5" x2="733.9" y2="683.5" stroke="#ff7f0e" stroke-width="1.5"/>
<use href="#m1" x="708.5" y="683.5"/>
<text x="751.2" y="690.9" font-family="'DejaVu Sans', sans-serif" font-size="22.6" textLength="62.1" lengthAdjust="spacing">N = 2</text>
<line x1="683.1" y1="718.9" x2="733.9" y2="718.9" stroke="#2ca02c" stroke-width="1.5"/>
<use href="#m2" x="708.5" y="718.9"/>
<text x="751.2" y="726.3" font-family="'DejaVu Sans', sans-serif" font-size="22.6" textLength="62.1" lengthAdjust="spacing">N = 3</text>
<line x1="683.1" y1="754.3" x2="733.9" y2="754.3" stroke="#d62728" stroke-width="1.5"/>
<use href="#m3" x="708.5" y="754.3"/>
<text x="751.2" y="761.7" font-family="'DejaVu Sans', sans-serif" font-size="22.6" textLength="62.1" lengthAdjust="spacing">N = 4</text>
<line x1="683.1" y1="789.7" x2="733.9" y2="789.7" stroke="#9467bd" stroke-width="1.5"/>
<use href="#m4" x="708.5" y="789.7"/>
<text x="751.2" y="797.1" font-family="'DejaVu Sans', sans-serif" font-size="22.6" textLength="62.1" lengthAdjust="spacing">N = 5</text>
<line x1="683.1" y1="825.1" x2="733.9" y2="825.1" stroke="#8c564b" stroke-width="1.5"/>
<use href="#m5" x="708.5" y="825.1"/>
<text x="751.2" y="832.5" font-family="'DejaVu Sans', sans-serif" font-size="22.6" textLength="62.1" lengthAdjust="spacing">N = 6</text>
<defs>
<clipPath id="dclip0"><rect x="940.8" y="626.8" width="759" height="95.78"/></clipPath>
<clipPath id="dclip1"><rect x="940.8" y="722.58" width="759" height="95.78"/></clipPath>
<clipPath id="dclip2"><rect x="940.8" y="818.37" width="759" height="95.78"/></clipPath>
<clipPath id="dclip3"><rect x="940.8" y="914.15" width="759" height="95.78"/></clipPath>
<clipPath id="dclip4"><rect x="940.8" y="1009.93" width="759" height="95.78"/></clipPath>
<clipPath id="dclip5"><rect x="940.8" y="1105.72" width="759" height="95.78"/></clipPath>
</defs>
<g clip-path="url(#dclip0)">
<rect x="942.68" y="644.46" width="11.27" height="60.16" fill="#1f77b4" stroke="none" stroke-width="1"/>
<rect x="1017.83" y="675.29" width="11.27" height="29.33" fill="#1f77b4" stroke="none" stroke-width="1"/>
<rect x="1092.98" y="703.13" width="11.27" height="1.5" fill="#1f77b4" stroke="none" stroke-width="1"/>
<rect x="1168.12" y="704.38" width="11.27" height="0.24" fill="#1f77b4" stroke="none" stroke-width="1"/>
<polyline points="940.8,644.31 944.56,643.97 948.31,643.86 952.07,643.97 955.83,644.31 959.59,644.87 963.34,645.64 967.1,646.62 970.86,647.79 974.62,649.15 978.37,650.68 982.13,652.35 985.89,654.17 989.65,656.1 993.4,658.13 997.16,660.24 1000.92,662.41 1004.68,664.63 1008.43,666.87 1012.19,669.11 1015.95,671.35 1019.71,673.56 1023.46,675.73 1027.22,677.85 1030.98,679.91 1034.74,681.89 1038.49,683.8 1042.25,685.61 1046.01,687.33 1049.77,688.95 1053.52,690.47 1057.28,691.9 1061.04,693.22 1064.8,694.44 1068.55,695.57 1072.31,696.6 1076.07,697.54 1079.82,698.39 1083.58,699.16 1087.34,699.85 1091.1,700.47 1094.85,701.03 1098.61,701.52 1102.37,701.95 1106.13,702.33 1109.88,702.67 1113.64,702.96 1117.4,703.21 1121.16,703.43 1124.91,703.62 1128.67,703.78 1132.43,703.92 1136.19,704.04 1139.94,704.14 1143.7,704.23 1147.46,704.3 1151.22,704.35 1154.97,704.4 1158.73,704.45 1162.49,704.48 1166.25,704.51 1170,704.53 1173.76,704.55 1177.52,704.56 1181.28,704.58 1185.03,704.59 1188.79,704.59 1192.55,704.6 1196.3,704.61 1200.06,704.61 1203.82,704.61 1207.58,704.62 1211.33,704.62 1215.09,704.62 1218.85,704.62 1222.61,704.62 1226.36,704.62 1230.12,704.62 1233.88,704.62 1237.64,704.62 1241.39,704.62 1245.15,704.62 1248.91,704.62 1252.67,704.62 1256.42,704.62 1260.18,704.62 1263.94,704.62 1267.7,704.62 1271.45,704.62 1275.21,704.62 1278.97,704.62 1282.73,704.62 1286.48,704.62 1290.24,704.62 1294,704.62 1297.76,704.62 1301.51,704.62 1305.27,704.62 1309.03,704.62 1312.79,704.62 1316.54,704.62 1320.3,704.62 1324.06,704.62 1327.81,704.62 1331.57,704.62 1335.33,704.62 1339.09,704.62 1342.84,704.62 1346.6,704.62 1350.36,704.62 1354.12,704.62 1357.87,704.62 1361.63,704.62 1365.39,704.62 1369.15,704.62 1372.9,704.62 1376.66,704.62 1380.42,704.62 1384.18,704.62 1387.93,704.62 1391.69,704.62 1395.45,704.62 1399.21,704.62 1402.96,704.62 1406.72,704.62 1410.48,704.62 1414.24,704.62 1417.99,704.62 1421.75,704.62 1425.51,704.62 1429.27,704.62 1433.02,704.62 1436.78,704.62 1440.54,704.62 1444.3,704.62 1448.05,704.62 1451.81,704.62 1455.57,704.62 1459.32,704.62 1463.08,704.62 1466.84,704.62 1470.6,704.62 1474.35,704.62 1478.11,704.62 1481.87,704.62 1485.63,704.62 1489.38,704.62 1493.14,704.62 1496.9,704.62 1500.66,704.62 1504.41,704.62 1508.17,704.62 1511.93,704.62 1515.69,704.62 1519.44,704.62 1523.2,704.62 1526.96,704.62 1530.72,704.62 1534.47,704.62 1538.23,704.62 1541.99,704.62 1545.75,704.62 1549.5,704.62 1553.26,704.62 1557.02,704.62 1560.78,704.62 1564.53,704.62 1568.29,704.62 1572.05,704.62 1575.8,704.62 1579.56,704.62 1583.32,704.62 1587.08,704.62 1590.83,704.62 1594.59,704.62 1598.35,704.62 1602.11,704.62 1605.86,704.62 1609.62,704.62 1613.38,704.62 1617.14,704.62 1620.89,704.62 1624.65,704.62 1628.41,704.62 1632.17,704.62 1635.92,704.62 1639.68,704.62 1643.44,704.62 1647.2,704.62 1650.95,704.62 1654.71,704.62 1658.47,704.62 1662.23,704.62 1665.98,704.62 1669.74,704.62 1673.5,704.62 1677.26,704.62 1681.01,704.62 1684.77,704.62 1688.53,704.62 1692.29,704.62 1696.04,704.62 1699.8,704.62" fill="none" stroke="#ff0000" stroke-width="2"/>
<line x1="940.8" y1="704.62" x2="1699.8" y2="704.62" stroke="#000" stroke-width="1.5" stroke-dasharray="1.5 2.5"/>
</g>
<rect x="940.8" y="626.8" width="759" height="95.78" fill="none" stroke="#000" stroke-width="1.5"/>
<line x1="940.8" y1="704.62" x2="945.4" y2="704.62" stroke="#000" stroke-width="1.1"/>
<text x="935.4" y="715.72" font-family="'DejaVu Sans', sans-serif" font-size="30.5" text-anchor="end">0.0</text>
<line x1="940.8" y1="674.69" x2="945.4" y2="674.69" stroke="#000" stroke-width="1.1"/>
<text x="935.4" y="685.79" font-family="'DejaVu Sans', sans-serif" font-size="30.5" text-anchor="end">0.5</text>
<line x1="940.8" y1="644.76" x2="945.4" y2="644.76" stroke="#000" stroke-width="1.1"/>
<text x="935.4" y="655.86" font-family="'DejaVu Sans', sans-serif" font-size="30.5" text-anchor="end">1.0</text>
<line x1="948.31" y1="722.58" x2="948.31" y2="717.58" stroke="#000" stroke-width="1.1"/>
<line x1="1023.46" y1="722.58" x2="1023.46" y2="717.58" stroke="#000" stroke-width="1.1"/>
<line x1="1098.61" y1="722.58" x2="1098.61" y2="717.58" stroke="#000" stroke-width="1.1"/>
<line x1="1173.76" y1="722.58" x2="1173.76" y2="717.58" stroke="#000" stroke-width="1.1"/>
<line x1="1248.91" y1="722.58" x2="1248.91" y2="717.58" stroke="#000" stroke-width="1.1"/>
<line x1="1324.06" y1="722.58" x2="1324.06" y2="717.58" stroke="#000" stroke-width="1.1"/>
<line x1="1399.21" y1="722.58" x2="1399.21" y2="717.58" stroke="#000" stroke-width="1.1"/>
<line x1="1474.35" y1="722.58" x2="1474.35" y2="717.58" stroke="#000" stroke-width="1.1"/>
<line x1="1549.5" y1="722.58" x2="1549.5" y2="717.58" stroke="#000" stroke-width="1.1"/>
<line x1="1624.65" y1="722.58" x2="1624.65" y2="717.58" stroke="#000" stroke-width="1.1"/>
<line x1="1699.8" y1="722.58" x2="1699.8" y2="717.58" stroke="#000" stroke-width="1.1"/>
<text font-family="'DejaVu Sans', sans-serif" font-size="30.5" y="674.9"><tspan x="1324" font-style="italic">K</tspan><tspan x="1349.9">=</tspan><tspan x="1381.4">5.38</tspan></text>
<text font-family="'DejaVu Sans', sans-serif" font-size="30.5" y="662.7"><tspan x="1606" font-style="italic">N</tspan><tspan x="1634.8">=</tspan><tspan x="1666.3">1</tspan></text>
<g clip-path="url(#dclip1)">
<rect x="942.68" y="739.64" width="11.27" height="60.76" fill="#1f77b4" stroke="none" stroke-width="1"/>
<rect x="980.25" y="798.01" width="11.27" height="2.39" fill="#1f77b4" stroke="none" stroke-width="1"/>
<rect x="1017.83" y="764.49" width="11.27" height="35.92" fill="#1f77b4" stroke="none" stroke-width="1"/>
<rect x="1055.4" y="800.11" width="11.27" height="0.3" fill="#1f77b4" stroke="none" stroke-width="1"/>
<rect x="1092.98" y="796.22" width="11.27" height="4.19" fill="#1f77b4" stroke="none" stroke-width="1"/>
<rect x="1168.12" y="799.93" width="11.27" height="0.48" fill="#1f77b4" stroke="none" stroke-width="1"/>
<polyline points="940.8,739.69 944.56,739.43 948.31,739.35 952.07,739.43 955.83,739.69 959.59,740.12 963.34,740.71 967.1,741.47 970.86,742.38 974.62,743.44 978.37,744.64 982.13,745.96 985.89,747.41 989.65,748.96 993.4,750.61 997.16,752.34 1000.92,754.15 1004.68,756.01 1008.43,757.92 1012.19,759.86 1015.95,761.82 1019.71,763.79 1023.46,765.76 1027.22,767.71 1030.98,769.64 1034.74,771.54 1038.49,773.4 1042.25,775.21 1046.01,776.97 1049.77,778.66 1053.52,780.29 1057.28,781.85 1061.04,783.34 1064.8,784.75 1068.55,786.09 1072.31,787.35 1076.07,788.53 1079.82,789.64 1083.58,790.67 1087.34,791.62 1091.1,792.51 1094.85,793.33 1098.61,794.08 1102.37,794.76 1106.13,795.39 1109.88,795.96 1113.64,796.47 1117.4,796.94 1121.16,797.36 1124.91,797.73 1128.67,798.07 1132.43,798.37 1136.19,798.64 1139.94,798.87 1143.7,799.08 1147.46,799.26 1151.22,799.43 1154.97,799.57 1158.73,799.69 1162.49,799.79 1166.25,799.89 1170,799.97 1173.76,800.03 1177.52,800.09 1181.28,800.14 1185.03,800.19 1188.79,800.22 1192.55,800.25 1196.3,800.28 1200.06,800.3 1203.82,800.32 1207.58,800.34 1211.33,800.35 1215.09,800.36 1218.85,800.37 1222.61,800.38 1226.36,800.38 1230.12,800.39 1233.88,800.39 1237.64,800.39 1241.39,800.4 1245.15,800.4 1248.91,800.4 1252.67,800.4 1256.42,800.4 1260.18,800.4 1263.94,800.4 1267.7,800.41 1271.45,800.41 1275.21,800.41 1278.97,800.41 1282.73,800.41 1286.48,800.41 1290.24,800.41 1294,800.41 1297.76,800.41 1301.51,800.41 1305.27,800.41 1309.03,800.41 1312.79,800.41 1316.54,800.41 1320.3,800.41 1324.06,800.41 1327.81,800.41 1331.57,800.41 1335.33,800.41 1339.09,800.41 1342.84,800.41 1346.6,800.41 1350.36,800.41 1354.12,800.41 1357.87,800.41 1361.63,800.41 1365.39,800.41 1369.15,800.41 1372.9,800.41 1376.66,800.41 1380.42,800.41 1384.18,800.41 1387.93,800.41 1391.69,800.41 1395.45,800.41 1399.21,800.41 1402.96,800.41 1406.72,800.41 1410.48,800.41 1414.24,800.41 1417.99,800.41 1421.75,800.41 1425.51,800.41 1429.27,800.41 1433.02,800.41 1436.78,800.41 1440.54,800.41 1444.3,800.41 1448.05,800.41 1451.81,800.41 1455.57,800.41 1459.32,800.41 1463.08,800.41 1466.84,800.41 1470.6,800.41 1474.35,800.41 1478.11,800.41 1481.87,800.41 1485.63,800.41 1489.38,800.41 1493.14,800.41 1496.9,800.41 1500.66,800.41 1504.41,800.41 1508.17,800.41 1511.93,800.41 1515.69,800.41 1519.44,800.41 1523.2,800.41 1526.96,800.41 1530.72,800.41 1534.47,800.41 1538.23,800.41 1541.99,800.41 1545.75,800.41 1549.5,800.41 1553.26,800.41 1557.02,800.41 1560.78,800.41 1564.53,800.41 1568.29,800.41 1572.05,800.41 1575.8,800.41 1579.56,800.41 1583.32,800.41 1587.08,800.41 1590.83,800.41 1594.59,800.41 1598.35,800.41 1602.11,800.41 1605.86,800.41 1609.62,800.41 1613.38,800.41 1617.14,800.41 1620.89,800.41 1624.65,800.41 1628.41,800.41 1632.17,800.41 1635.92,800.41 1639.68,800.41 1643.44,800.41 1647.2,800.41 1650.95,800.41 1654.71,800.41 1658.47,800.41 1662.23,800.41 1665.98,800.41 1669.74,800.41 1673.5,800.41 1677.26,800.41 1681.01,800.41 1684.77,800.41 1688.53,800.41 1692.29,800.41 1696.04,800.41 1699.8,800.41" fill="none" stroke="#ff0000" stroke-width="2"/>
<line x1="940.8" y1="800.41" x2="1699.8" y2="800.41" stroke="#000" stroke-width="1.5" stroke-dasharray="1.5 2.5"/>
</g>
<rect x="940.8" y="722.58" width="759" height="95.78" fill="none" stroke="#000" stroke-width="1.5"/>
<line x1="940.8" y1="800.41" x2="945.4" y2="800.41" stroke="#000" stroke-width="1.1"/>
<text x="935.4" y="811.51" font-family="'DejaVu Sans', sans-serif" font-size="30.5" text-anchor="end">0.0</text>
<line x1="940.8" y1="770.47" x2="945.4" y2="770.47" stroke="#000" stroke-width="1.1"/>
<text x="935.4" y="781.57" font-family="'DejaVu Sans', sans-serif" font-size="30.5" text-anchor="end">0.5</text>
<line x1="940.8" y1="740.54" x2="945.4" y2="740.54" stroke="#000" stroke-width="1.1"/>
<text x="935.4" y="751.64" font-family="'DejaVu Sans', sans-serif" font-size="30.5" text-anchor="end">1.0</text>
<line x1="948.31" y1="818.37" x2="948.31" y2="813.37" stroke="#000" stroke-width="1.1"/>
<line x1="1023.46" y1="818.37" x2="1023.46" y2="813.37" stroke="#000" stroke-width="1.1"/>
<line x1="1098.61" y1="818.37" x2="1098.61" y2="813.37" stroke="#000" stroke-width="1.1"/>
<line x1="1173.76" y1="818.37" x2="1173.76" y2="813.37" stroke="#000" stroke-width="1.1"/>
<line x1="1248.91" y1="818.37" x2="1248.91" y2="813.37" stroke="#000" stroke-width="1.1"/>
<line x1="1324.06" y1="818.37" x2="1324.06" y2="813.37" stroke="#000" stroke-width="1.1"/>
<line x1="1399.21" y1="818.37" x2="1399.21" y2="813.37" stroke="#000" stroke-width="1.1"/>
<line x1="1474.35" y1="818.37" x2="1474.35" y2="813.37" stroke="#000" stroke-width="1.1"/>
<line x1="1549.5" y1="818.37" x2="1549.5" y2="813.37" stroke="#000" stroke-width="1.1"/>
<line x1="1624.65" y1="818.37" x2="1624.65" y2="813.37" stroke="#000" stroke-width="1.1"/>
<line x1="1699.8" y1="818.37" x2="1699.8" y2="813.37" stroke="#000" stroke-width="1.1"/>
<text font-family="'DejaVu Sans', sans-serif" font-size="30.5" y="770.68"><tspan x="1324" font-style="italic">K</tspan><tspan x="1349.9">=</tspan><tspan x="1381.4">7.06</tspan></text>
<text font-family="'DejaVu Sans', sans-serif" font-size="30.5" y="758.48"><tspan x="1606" font-style="italic">N</tspan><tspan x="1634.8">=</tspan><tspan x="1666.3">2</tspan></text>
<g clip-path="url(#dclip2)">
<rect x="942.68" y="836.03" width="11.27" height="60.16" fill="#1f77b4" stroke="none" stroke-width="1"/>
<rect x="980.25" y="894.99" width="11.27" height="1.2" fill="#1f77b4" stroke="none" stroke-width="1"/>
<rect x="1017.83" y="860.87" width="11.27" height="35.32" fill="#1f77b4" stroke="none" stroke-width="1"/>
<rect x="1055.4" y="894.99" width="11.27" height="1.2" fill="#1f77b4" stroke="none" stroke-width="1"/>
<rect x="1092.98" y="883.62" width="11.27" height="12.57" fill="#1f77b4" stroke="none" stroke-width="1"/>
<rect x="1168.12" y="892" width="11.27" height="4.19" fill="#1f77b4" stroke="none" stroke-width="1"/>
<rect x="1243.27" y="895.59" width="11.27" height="0.6" fill="#1f77b4" stroke="none" stroke-width="1"/>
<polyline points="940.8,838.95 944.56,838.78 948.31,838.72 952.07,838.78 955.83,838.95 959.59,839.24 963.34,839.65 967.1,840.17 970.86,840.79 974.62,841.52 978.37,842.35 982.13,843.27 985.89,844.28 989.65,845.38 993.4,846.56 997.16,847.81 1000.92,849.12 1004.68,850.49 1008.43,851.91 1012.19,853.37 1015.95,854.87 1019.71,856.4 1023.46,857.95 1027.22,859.51 1030.98,861.08 1034.74,862.66 1038.49,864.22 1042.25,865.78 1046.01,867.32 1049.77,868.84 1053.52,870.33 1057.28,871.78 1061.04,873.21 1064.8,874.59 1068.55,875.93 1072.31,877.23 1076.07,878.48 1079.82,879.68 1083.58,880.83 1087.34,881.93 1091.1,882.98 1094.85,883.98 1098.61,884.92 1102.37,885.82 1106.13,886.66 1109.88,887.45 1113.64,888.19 1117.4,888.88 1121.16,889.53 1124.91,890.13 1128.67,890.69 1132.43,891.21 1136.19,891.68 1139.94,892.12 1143.7,892.53 1147.46,892.9 1151.22,893.24 1154.97,893.55 1158.73,893.83 1162.49,894.09 1166.25,894.32 1170,894.53 1173.76,894.72 1177.52,894.89 1181.28,895.04 1185.03,895.18 1188.79,895.3 1192.55,895.41 1196.3,895.51 1200.06,895.6 1203.82,895.67 1207.58,895.74 1211.33,895.8 1215.09,895.85 1218.85,895.9 1222.61,895.94 1226.36,895.97 1230.12,896 1233.88,896.03 1237.64,896.05 1241.39,896.07 1245.15,896.09 1248.91,896.11 1252.67,896.12 1256.42,896.13 1260.18,896.14 1263.94,896.15 1267.7,896.15 1271.45,896.16 1275.21,896.16 1278.97,896.17 1282.73,896.17 1286.48,896.18 1290.24,896.18 1294,896.18 1297.76,896.18 1301.51,896.18 1305.27,896.18 1309.03,896.19 1312.79,896.19 1316.54,896.19 1320.3,896.19 1324.06,896.19 1327.81,896.19 1331.57,896.19 1335.33,896.19 1339.09,896.19 1342.84,896.19 1346.6,896.19 1350.36,896.19 1354.12,896.19 1357.87,896.19 1361.63,896.19 1365.39,896.19 1369.15,896.19 1372.9,896.19 1376.66,896.19 1380.42,896.19 1384.18,896.19 1387.93,896.19 1391.69,896.19 1395.45,896.19 1399.21,896.19 1402.96,896.19 1406.72,896.19 1410.48,896.19 1414.24,896.19 1417.99,896.19 1421.75,896.19 1425.51,896.19 1429.27,896.19 1433.02,896.19 1436.78,896.19 1440.54,896.19 1444.3,896.19 1448.05,896.19 1451.81,896.19 1455.57,896.19 1459.32,896.19 1463.08,896.19 1466.84,896.19 1470.6,896.19 1474.35,896.19 1478.11,896.19 1481.87,896.19 1485.63,896.19 1489.38,896.19 1493.14,896.19 1496.9,896.19 1500.66,896.19 1504.41,896.19 1508.17,896.19 1511.93,896.19 1515.69,896.19 1519.44,896.19 1523.2,896.19 1526.96,896.19 1530.72,896.19 1534.47,896.19 1538.23,896.19 1541.99,896.19 1545.75,896.19 1549.5,896.19 1553.26,896.19 1557.02,896.19 1560.78,896.19 1564.53,896.19 1568.29,896.19 1572.05,896.19 1575.8,896.19 1579.56,896.19 1583.32,896.19 1587.08,896.19 1590.83,896.19 1594.59,896.19 1598.35,896.19 1602.11,896.19 1605.86,896.19 1609.62,896.19 1613.38,896.19 1617.14,896.19 1620.89,896.19 1624.65,896.19 1628.41,896.19 1632.17,896.19 1635.92,896.19 1639.68,896.19 1643.44,896.19 1647.2,896.19 1650.95,896.19 1654.71,896.19 1658.47,896.19 1662.23,896.19 1665.98,896.19 1669.74,896.19 1673.5,896.19 1677.26,896.19 1681.01,896.19 1684.77,896.19 1688.53,896.19 1692.29,896.19 1696.04,896.19 1699.8,896.19" fill="none" stroke="#ff0000" stroke-width="2"/>
<line x1="940.8" y1="896.19" x2="1699.8" y2="896.19" stroke="#000" stroke-width="1.5" stroke-dasharray="1.5 2.5"/>
</g>
<rect x="940.8" y="818.37" width="759" height="95.78" fill="none" stroke="#000" stroke-width="1.5"/>
<line x1="940.8" y1="896.19" x2="945.4" y2="896.19" stroke="#000" stroke-width="1.1"/>
<text x="935.4" y="907.29" font-family="'DejaVu Sans', sans-serif" font-size="30.5" text-anchor="end">0.0</text>
<line x1="940.8" y1="866.26" x2="945.4" y2="866.26" stroke="#000" stroke-width="1.1"/>
<text x="935.4" y="877.36" font-family="'DejaVu Sans', sans-serif" font-size="30.5" text-anchor="end">0.5</text>
<line x1="940.8" y1="836.33" x2="945.4" y2="836.33" stroke="#000" stroke-width="1.1"/>
<text x="935.4" y="847.43" font-family="'DejaVu Sans', sans-serif" font-size="30.5" text-anchor="end">1.0</text>
<line x1="948.31" y1="914.15" x2="948.31" y2="909.15" stroke="#000" stroke-width="1.1"/>
<line x1="1023.46" y1="914.15" x2="1023.46" y2="909.15" stroke="#000" stroke-width="1.1"/>
<line x1="1098.61" y1="914.15" x2="1098.61" y2="909.15" stroke="#000" stroke-width="1.1"/>
<line x1="1173.76" y1="914.15" x2="1173.76" y2="909.15" stroke="#000" stroke-width="1.1"/>
<line x1="1248.91" y1="914.15" x2="1248.91" y2="909.15" stroke="#000" stroke-width="1.1"/>
<line x1="1324.06" y1="914.15" x2="1324.06" y2="909.15" stroke="#000" stroke-width="1.1"/>
<line x1="1399.21" y1="914.15" x2="1399.21" y2="909.15" stroke="#000" stroke-width="1.1"/>
<line x1="1474.35" y1="914.15" x2="1474.35" y2="909.15" stroke="#000" stroke-width="1.1"/>
<line x1="1549.5" y1="914.15" x2="1549.5" y2="909.15" stroke="#000" stroke-width="1.1"/>
<line x1="1624.65" y1="914.15" x2="1624.65" y2="909.15" stroke="#000" stroke-width="1.1"/>
<line x1="1699.8" y1="914.15" x2="1699.8" y2="909.15" stroke="#000" stroke-width="1.1"/>
<text font-family="'DejaVu Sans', sans-serif" font-size="30.5" y="866.47"><tspan x="1324" font-style="italic">K</tspan><tspan x="1349.9">=</tspan><tspan x="1381.4">9.82</tspan></text>
<text font-family="'DejaVu Sans', sans-serif" font-size="30.5" y="854.27"><tspan x="1606" font-style="italic">N</tspan><tspan x="1634.8">=</tspan><tspan x="1666.3">3</tspan></text>
<g clip-path="url(#dclip3)">
<rect x="942.68" y="931.93" width="11.27" height="60.04" fill="#1f77b4" stroke="none" stroke-width="1"/>
<rect x="980.25" y="989.58" width="11.27" height="2.39" fill="#1f77b4" stroke="none" stroke-width="1"/>
<rect x="1017.83" y="950.07" width="11.27" height="41.91" fill="#1f77b4" stroke="none" stroke-width="1"/>
<rect x="1055.4" y="988.98" width="11.27" height="2.99" fill="#1f77b4" stroke="none" stroke-width="1"/>
<rect x="1092.98" y="972.22" width="11.27" height="19.76" fill="#1f77b4" stroke="none" stroke-width="1"/>
<rect x="1130.55" y="990.78" width="11.27" height="1.2" fill="#1f77b4" stroke="none" stroke-width="1"/>
<rect x="1168.12" y="982.99" width="11.27" height="8.98" fill="#1f77b4" stroke="none" stroke-width="1"/>
<rect x="1205.7" y="991.67" width="11.27" height="0.3" fill="#1f77b4" stroke="none" stroke-width="1"/>
<rect x="1243.27" y="989.58" width="11.27" height="2.39" fill="#1f77b4" stroke="none" stroke-width="1"/>
<rect x="1318.42" y="991.67" width="11.27" height="0.3" fill="#1f77b4" stroke="none" stroke-width="1"/>
<polyline points="940.8,935.54 944.56,935.44 948.31,935.4 952.07,935.44 955.83,935.54 959.59,935.72 963.34,935.97 967.1,936.29 970.86,936.67 974.62,937.12 978.37,937.64 982.13,938.21 985.89,938.85 989.65,939.55 993.4,940.3 997.16,941.11 1000.92,941.97 1004.68,942.87 1008.43,943.82 1012.19,944.81 1015.95,945.84 1019.71,946.9 1023.46,947.99 1027.22,949.11 1030.98,950.26 1034.74,951.42 1038.49,952.6 1042.25,953.8 1046.01,955 1049.77,956.22 1053.52,957.43 1057.28,958.65 1061.04,959.87 1064.8,961.07 1068.55,962.28 1072.31,963.47 1076.07,964.64 1079.82,965.8 1083.58,966.95 1087.34,968.07 1091.1,969.17 1094.85,970.25 1098.61,971.31 1102.37,972.33 1106.13,973.33 1109.88,974.3 1113.64,975.25 1117.4,976.16 1121.16,977.04 1124.91,977.89 1128.67,978.7 1132.43,979.49 1136.19,980.24 1139.94,980.97 1143.7,981.66 1147.46,982.32 1151.22,982.95 1154.97,983.54 1158.73,984.11 1162.49,984.65 1166.25,985.16 1170,985.65 1173.76,986.1 1177.52,986.53 1181.28,986.94 1185.03,987.32 1188.79,987.68 1192.55,988.01 1196.3,988.33 1200.06,988.62 1203.82,988.89 1207.58,989.15 1211.33,989.38 1215.09,989.6 1218.85,989.81 1222.61,990 1226.36,990.17 1230.12,990.33 1233.88,990.48 1237.64,990.62 1241.39,990.74 1245.15,990.86 1248.91,990.97 1252.67,991.06 1256.42,991.15 1260.18,991.23 1263.94,991.31 1267.7,991.37 1271.45,991.44 1275.21,991.49 1278.97,991.54 1282.73,991.59 1286.48,991.63 1290.24,991.67 1294,991.7 1297.76,991.73 1301.51,991.76 1305.27,991.78 1309.03,991.8 1312.79,991.82 1316.54,991.84 1320.3,991.86 1324.06,991.87 1327.81,991.88 1331.57,991.89 1335.33,991.9 1339.09,991.91 1342.84,991.92 1346.6,991.93 1350.36,991.93 1354.12,991.94 1357.87,991.94 1361.63,991.95 1365.39,991.95 1369.15,991.95 1372.9,991.96 1376.66,991.96 1380.42,991.96 1384.18,991.96 1387.93,991.96 1391.69,991.97 1395.45,991.97 1399.21,991.97 1402.96,991.97 1406.72,991.97 1410.48,991.97 1414.24,991.97 1417.99,991.97 1421.75,991.97 1425.51,991.97 1429.27,991.97 1433.02,991.97 1436.78,991.97 1440.54,991.97 1444.3,991.97 1448.05,991.97 1451.81,991.97 1455.57,991.97 1459.32,991.97 1463.08,991.97 1466.84,991.97 1470.6,991.97 1474.35,991.97 1478.11,991.97 1481.87,991.97 1485.63,991.97 1489.38,991.97 1493.14,991.97 1496.9,991.97 1500.66,991.97 1504.41,991.97 1508.17,991.97 1511.93,991.97 1515.69,991.97 1519.44,991.97 1523.2,991.97 1526.96,991.97 1530.72,991.97 1534.47,991.97 1538.23,991.97 1541.99,991.97 1545.75,991.97 1549.5,991.97 1553.26,991.97 1557.02,991.97 1560.78,991.97 1564.53,991.97 1568.29,991.97 1572.05,991.97 1575.8,991.97 1579.56,991.97 1583.32,991.97 1587.08,991.97 1590.83,991.97 1594.59,991.97 1598.35,991.97 1602.11,991.97 1605.86,991.97 1609.62,991.97 1613.38,991.97 1617.14,991.97 1620.89,991.97 1624.65,991.97 1628.41,991.97 1632.17,991.97 1635.92,991.97 1639.68,991.97 1643.44,991.97 1647.2,991.97 1650.95,991.97 1654.71,991.97 1658.47,991.97 1662.23,991.97 1665.98,991.97 1669.74,991.97 1673.5,991.97 1677.26,991.97 1681.01,991.97 1684.77,991.97 1688.53,991.97 1692.29,991.97 1696.04,991.97 1699.8,991.97" fill="none" stroke="#ff0000" stroke-width="2"/>
<line x1="940.8" y1="991.97" x2="1699.8" y2="991.97" stroke="#000" stroke-width="1.5" stroke-dasharray="1.5 2.5"/>
</g>
<rect x="940.8" y="914.15" width="759" height="95.78" fill="none" stroke="#000" stroke-width="1.5"/>
<line x1="940.8" y1="991.97" x2="945.4" y2="991.97" stroke="#000" stroke-width="1.1"/>
<text x="935.4" y="1003.07" font-family="'DejaVu Sans', sans-serif" font-size="30.5" text-anchor="end">0.0</text>
<line x1="940.8" y1="962.04" x2="945.4" y2="962.04" stroke="#000" stroke-width="1.1"/>
<text x="935.4" y="973.14" font-family="'DejaVu Sans', sans-serif" font-size="30.5" text-anchor="end">0.5</text>
<line x1="940.8" y1="932.11" x2="945.4" y2="932.11" stroke="#000" stroke-width="1.1"/>
<text x="935.4" y="943.21" font-family="'DejaVu Sans', sans-serif" font-size="30.5" text-anchor="end">1.0</text>
<line x1="948.31" y1="1009.93" x2="948.31" y2="1004.93" stroke="#000" stroke-width="1.1"/>
<line x1="1023.46" y1="1009.93" x2="1023.46" y2="1004.93" stroke="#000" stroke-width="1.1"/>
<line x1="1098.61" y1="1009.93" x2="1098.61" y2="1004.93" stroke="#000" stroke-width="1.1"/>
<line x1="1173.76" y1="1009.93" x2="1173.76" y2="1004.93" stroke="#000" stroke-width="1.1"/>
<line x1="1248.91" y1="1009.93" x2="1248.91" y2="1004.93" stroke="#000" stroke-width="1.1"/>
<line x1="1324.06" y1="1009.93" x2="1324.06" y2="1004.93" stroke="#000" stroke-width="1.1"/>
<line x1="1399.21" y1="1009.93" x2="1399.21" y2="1004.93" stroke="#000" stroke-width="1.1"/>
<line x1="1474.35" y1="1009.93" x2="1474.35" y2="1004.93" stroke="#000" stroke-width="1.1"/>
<line x1="1549.5" y1="1009.93" x2="1549.5" y2="1004.93" stroke="#000" stroke-width="1.1"/>
<line x1="1624.65" y1="1009.93" x2="1624.65" y2="1004.93" stroke="#000" stroke-width="1.1"/>
<line x1="1699.8" y1="1009.93" x2="1699.8" y2="1004.93" stroke="#000" stroke-width="1.1"/>
<text font-family="'DejaVu Sans', sans-serif" font-size="30.5" y="962.25"><tspan x="1324" font-style="italic">K</tspan><tspan x="1349.9">=</tspan><tspan x="1381.4">15.89</tspan></text>
<text font-family="'DejaVu Sans', sans-serif" font-size="30.5" y="950.05"><tspan x="1606" font-style="italic">N</tspan><tspan x="1634.8">=</tspan><tspan x="1666.3">4</tspan></text>
<g clip-path="url(#dclip4)">
<rect x="942.68" y="1027.89" width="11.27" height="59.86" fill="#1f77b4" stroke="none" stroke-width="1"/>
<rect x="980.25" y="1085.66" width="11.27" height="2.1" fill="#1f77b4" stroke="none" stroke-width="1"/>
<rect x="1017.83" y="1048.49" width="11.27" height="39.27" fill="#1f77b4" stroke="none" stroke-width="1"/>
<rect x="1055.4" y="1085.36" width="11.27" height="2.39" fill="#1f77b4" stroke="none" stroke-width="1"/>
<rect x="1092.98" y="1063.81" width="11.27" height="23.95" fill="#1f77b4" stroke="none" stroke-width="1"/>
<rect x="1130.55" y="1086.56" width="11.27" height="1.2" fill="#1f77b4" stroke="none" stroke-width="1"/>
<rect x="1168.12" y="1073.99" width="11.27" height="13.77" fill="#1f77b4" stroke="none" stroke-width="1"/>
<rect x="1205.7" y="1087.16" width="11.27" height="0.6" fill="#1f77b4" stroke="none" stroke-width="1"/>
<rect x="1243.27" y="1081.17" width="11.27" height="6.59" fill="#1f77b4" stroke="none" stroke-width="1"/>
<rect x="1318.42" y="1084.17" width="11.27" height="3.59" fill="#1f77b4" stroke="none" stroke-width="1"/>
<rect x="1393.57" y="1086.56" width="11.27" height="1.2" fill="#1f77b4" stroke="none" stroke-width="1"/>
<polyline points="940.8,1036.65 944.56,1036.59 948.31,1036.57 952.07,1036.59 955.83,1036.65 959.59,1036.76 963.34,1036.9 967.1,1037.08 970.86,1037.3 974.62,1037.56 978.37,1037.86 982.13,1038.19 985.89,1038.56 989.65,1038.97 993.4,1039.42 997.16,1039.89 1000.92,1040.4 1004.68,1040.95 1008.43,1041.52 1012.19,1042.12 1015.95,1042.75 1019.71,1043.4 1023.46,1044.09 1027.22,1044.79 1030.98,1045.52 1034.74,1046.26 1038.49,1047.03 1042.25,1047.82 1046.01,1048.62 1049.77,1049.43 1053.52,1050.26 1057.28,1051.1 1061.04,1051.95 1064.8,1052.8 1068.55,1053.66 1072.31,1054.53 1076.07,1055.4 1079.82,1056.28 1083.58,1057.15 1087.34,1058.03 1091.1,1058.9 1094.85,1059.77 1098.61,1060.63 1102.37,1061.49 1106.13,1062.34 1109.88,1063.18 1113.64,1064.02 1117.4,1064.84 1121.16,1065.65 1124.91,1066.45 1128.67,1067.24 1132.43,1068.02 1136.19,1068.78 1139.94,1069.52 1143.7,1070.25 1147.46,1070.97 1151.22,1071.67 1154.97,1072.35 1158.73,1073.01 1162.49,1073.66 1166.25,1074.29 1170,1074.9 1173.76,1075.49 1177.52,1076.07 1181.28,1076.62 1185.03,1077.16 1188.79,1077.68 1192.55,1078.19 1196.3,1078.67 1200.06,1079.14 1203.82,1079.59 1207.58,1080.02 1211.33,1080.43 1215.09,1080.83 1218.85,1081.21 1222.61,1081.58 1226.36,1081.93 1230.12,1082.27 1233.88,1082.58 1237.64,1082.89 1241.39,1083.18 1245.15,1083.46 1248.91,1083.72 1252.67,1083.97 1256.42,1084.21 1260.18,1084.43 1263.94,1084.64 1267.7,1084.85 1271.45,1085.04 1275.21,1085.22 1278.97,1085.39 1282.73,1085.55 1286.48,1085.7 1290.24,1085.84 1294,1085.98 1297.76,1086.1 1301.51,1086.22 1305.27,1086.33 1309.03,1086.44 1312.79,1086.53 1316.54,1086.62 1320.3,1086.71 1324.06,1086.79 1327.81,1086.86 1331.57,1086.93 1335.33,1087 1339.09,1087.06 1342.84,1087.11 1346.6,1087.16 1350.36,1087.21 1354.12,1087.26 1357.87,1087.3 1361.63,1087.34 1365.39,1087.37 1369.15,1087.4 1372.9,1087.43 1376.66,1087.46 1380.42,1087.49 1384.18,1087.51 1387.93,1087.53 1391.69,1087.55 1395.45,1087.57 1399.21,1087.59 1402.96,1087.6 1406.72,1087.62 1410.48,1087.63 1414.24,1087.64 1417.99,1087.65 1421.75,1087.66 1425.51,1087.67 1429.27,1087.68 1433.02,1087.69 1436.78,1087.69 1440.54,1087.7 1444.3,1087.71 1448.05,1087.71 1451.81,1087.72 1455.57,1087.72 1459.32,1087.72 1463.08,1087.73 1466.84,1087.73 1470.6,1087.73 1474.35,1087.74 1478.11,1087.74 1481.87,1087.74 1485.63,1087.74 1489.38,1087.74 1493.14,1087.75 1496.9,1087.75 1500.66,1087.75 1504.41,1087.75 1508.17,1087.75 1511.93,1087.75 1515.69,1087.75 1519.44,1087.75 1523.2,1087.75 1526.96,1087.75 1530.72,1087.75 1534.47,1087.75 1538.23,1087.75 1541.99,1087.75 1545.75,1087.76 1549.5,1087.76 1553.26,1087.76 1557.02,1087.76 1560.78,1087.76 1564.53,1087.76 1568.29,1087.76 1572.05,1087.76 1575.8,1087.76 1579.56,1087.76 1583.32,1087.76 1587.08,1087.76 1590.83,1087.76 1594.59,1087.76 1598.35,1087.76 1602.11,1087.76 1605.86,1087.76 1609.62,1087.76 1613.38,1087.76 1617.14,1087.76 1620.89,1087.76 1624.65,1087.76 1628.41,1087.76 1632.17,1087.76 1635.92,1087.76 1639.68,1087.76 1643.44,1087.76 1647.2,1087.76 1650.95,1087.76 1654.71,1087.76 1658.47,1087.76 1662.23,1087.76 1665.98,1087.76 1669.74,1087.76 1673.5,1087.76 1677.26,1087.76 1681.01,1087.76 1684.77,1087.76 1688.53,1087.76 1692.29,1087.76 1696.04,1087.76 1699.8,1087.76" fill="none" stroke="#ff0000" stroke-width="2"/>
<line x1="940.8" y1="1087.76" x2="1699.8" y2="1087.76" stroke="#000" stroke-width="1.5" stroke-dasharray="1.5 2.5"/>
</g>
<rect x="940.8" y="1009.93" width="759" height="95.78" fill="none" stroke="#000" stroke-width="1.5"/>
<line x1="940.8" y1="1087.76" x2="945.4" y2="1087.76" stroke="#000" stroke-width="1.1"/>
<text x="935.4" y="1098.86" font-family="'DejaVu Sans', sans-serif" font-size="30.5" text-anchor="end">0.0</text>
<line x1="940.8" y1="1057.83" x2="945.4" y2="1057.83" stroke="#000" stroke-width="1.1"/>
<text x="935.4" y="1068.92" font-family="'DejaVu Sans', sans-serif" font-size="30.5" text-anchor="end">0.5</text>
<line x1="940.8" y1="1027.89" x2="945.4" y2="1027.89" stroke="#000" stroke-width="1.1"/>
<text x="935.4" y="1038.99" font-family="'DejaVu Sans', sans-serif" font-size="30.5" text-anchor="end">1.0</text>
<line x1="948.31" y1="1105.72" x2="948.31" y2="1100.72" stroke="#000" stroke-width="1.1"/>
<line x1="1023.46" y1="1105.72" x2="1023.46" y2="1100.72" stroke="#000" stroke-width="1.1"/>
<line x1="1098.61" y1="1105.72" x2="1098.61" y2="1100.72" stroke="#000" stroke-width="1.1"/>
<line x1="1173.76" y1="1105.72" x2="1173.76" y2="1100.72" stroke="#000" stroke-width="1.1"/>
<line x1="1248.91" y1="1105.72" x2="1248.91" y2="1100.72" stroke="#000" stroke-width="1.1"/>
<line x1="1324.06" y1="1105.72" x2="1324.06" y2="1100.72" stroke="#000" stroke-width="1.1"/>
<line x1="1399.21" y1="1105.72" x2="1399.21" y2="1100.72" stroke="#000" stroke-width="1.1"/>
<line x1="1474.35" y1="1105.72" x2="1474.35" y2="1100.72" stroke="#000" stroke-width="1.1"/>
<line x1="1549.5" y1="1105.72" x2="1549.5" y2="1100.72" stroke="#000" stroke-width="1.1"/>
<line x1="1624.65" y1="1105.72" x2="1624.65" y2="1100.72" stroke="#000" stroke-width="1.1"/>
<line x1="1699.8" y1="1105.72" x2="1699.8" y2="1100.72" stroke="#000" stroke-width="1.1"/>
<text font-family="'DejaVu Sans', sans-serif" font-size="30.5" y="1058.03"><tspan x="1324" font-style="italic">K</tspan><tspan x="1349.9">=</tspan><tspan x="1381.4">25.20</tspan></text>
<text font-family="'DejaVu Sans', sans-serif" font-size="30.5" y="1045.83"><tspan x="1606" font-style="italic">N</tspan><tspan x="1634.8">=</tspan><tspan x="1666.3">5</tspan></text>
<g clip-path="url(#dclip5)">
<rect x="942.68" y="1123.86" width="11.27" height="59.68" fill="#1f77b4" stroke="none" stroke-width="1"/>
<rect x="980.25" y="1175.34" width="11.27" height="8.2" fill="#1f77b4" stroke="none" stroke-width="1"/>
<rect x="1017.83" y="1146.78" width="11.27" height="36.76" fill="#1f77b4" stroke="none" stroke-width="1"/>
<rect x="1055.4" y="1176.96" width="11.27" height="6.59" fill="#1f77b4" stroke="none" stroke-width="1"/>
<rect x="1092.98" y="1160.31" width="11.27" height="23.23" fill="#1f77b4" stroke="none" stroke-width="1"/>
<rect x="1130.55" y="1178.75" width="11.27" height="4.79" fill="#1f77b4" stroke="none" stroke-width="1"/>
<rect x="1168.12" y="1169.77" width="11.27" height="13.77" fill="#1f77b4" stroke="none" stroke-width="1"/>
<rect x="1205.7" y="1180.85" width="11.27" height="2.69" fill="#1f77b4" stroke="none" stroke-width="1"/>
<rect x="1243.27" y="1176.96" width="11.27" height="6.59" fill="#1f77b4" stroke="none" stroke-width="1"/>
<rect x="1318.42" y="1180.55" width="11.27" height="2.99" fill="#1f77b4" stroke="none" stroke-width="1"/>
<rect x="1393.57" y="1182.34" width="11.27" height="1.2" fill="#1f77b4" stroke="none" stroke-width="1"/>
<polyline points="940.8,1133.93 944.56,1133.87 948.31,1133.85 952.07,1133.87 955.83,1133.93 959.59,1134.03 963.34,1134.17 967.1,1134.35 970.86,1134.57 974.62,1134.82 978.37,1135.11 982.13,1135.44 985.89,1135.81 989.65,1136.21 993.4,1136.65 997.16,1137.12 1000.92,1137.62 1004.68,1138.15 1008.43,1138.71 1012.19,1139.3 1015.95,1139.92 1019.71,1140.56 1023.46,1141.23 1027.22,1141.92 1030.98,1142.64 1034.74,1143.37 1038.49,1144.12 1042.25,1144.89 1046.01,1145.67 1049.77,1146.47 1053.52,1147.28 1057.28,1148.1 1061.04,1148.93 1064.8,1149.77 1068.55,1150.62 1072.31,1151.47 1076.07,1152.32 1079.82,1153.17 1083.58,1154.03 1087.34,1154.88 1091.1,1155.73 1094.85,1156.58 1098.61,1157.42 1102.37,1158.26 1106.13,1159.09 1109.88,1159.91 1113.64,1160.72 1117.4,1161.52 1121.16,1162.31 1124.91,1163.09 1128.67,1163.86 1132.43,1164.61 1136.19,1165.35 1139.94,1166.07 1143.7,1166.78 1147.46,1167.47 1151.22,1168.15 1154.97,1168.81 1158.73,1169.45 1162.49,1170.08 1166.25,1170.69 1170,1171.28 1173.76,1171.85 1177.52,1172.4 1181.28,1172.94 1185.03,1173.46 1188.79,1173.96 1192.55,1174.45 1196.3,1174.91 1200.06,1175.36 1203.82,1175.79 1207.58,1176.21 1211.33,1176.61 1215.09,1176.99 1218.85,1177.36 1222.61,1177.71 1226.36,1178.04 1230.12,1178.36 1233.88,1178.67 1237.64,1178.96 1241.39,1179.23 1245.15,1179.5 1248.91,1179.75 1252.67,1179.98 1256.42,1180.21 1260.18,1180.42 1263.94,1180.63 1267.7,1180.82 1271.45,1181 1275.21,1181.17 1278.97,1181.33 1282.73,1181.48 1286.48,1181.62 1290.24,1181.76 1294,1181.89 1297.76,1182 1301.51,1182.12 1305.27,1182.22 1309.03,1182.32 1312.79,1182.41 1316.54,1182.49 1320.3,1182.57 1324.06,1182.65 1327.81,1182.72 1331.57,1182.78 1335.33,1182.84 1339.09,1182.9 1342.84,1182.95 1346.6,1183 1350.36,1183.04 1354.12,1183.08 1357.87,1183.12 1361.63,1183.16 1365.39,1183.19 1369.15,1183.22 1372.9,1183.25 1376.66,1183.27 1380.42,1183.3 1384.18,1183.32 1387.93,1183.34 1391.69,1183.36 1395.45,1183.37 1399.21,1183.39 1402.96,1183.4 1406.72,1183.42 1410.48,1183.43 1414.24,1183.44 1417.99,1183.45 1421.75,1183.46 1425.51,1183.46 1429.27,1183.47 1433.02,1183.48 1436.78,1183.48 1440.54,1183.49 1444.3,1183.5 1448.05,1183.5 1451.81,1183.5 1455.57,1183.51 1459.32,1183.51 1463.08,1183.51 1466.84,1183.52 1470.6,1183.52 1474.35,1183.52 1478.11,1183.52 1481.87,1183.53 1485.63,1183.53 1489.38,1183.53 1493.14,1183.53 1496.9,1183.53 1500.66,1183.53 1504.41,1183.53 1508.17,1183.53 1511.93,1183.53 1515.69,1183.54 1519.44,1183.54 1523.2,1183.54 1526.96,1183.54 1530.72,1183.54 1534.47,1183.54 1538.23,1183.54 1541.99,1183.54 1545.75,1183.54 1549.5,1183.54 1553.26,1183.54 1557.02,1183.54 1560.78,1183.54 1564.53,1183.54 1568.29,1183.54 1572.05,1183.54 1575.8,1183.54 1579.56,1183.54 1583.32,1183.54 1587.08,1183.54 1590.83,1183.54 1594.59,1183.54 1598.35,1183.54 1602.11,1183.54 1605.86,1183.54 1609.62,1183.54 1613.38,1183.54 1617.14,1183.54 1620.89,1183.54 1624.65,1183.54 1628.41,1183.54 1632.17,1183.54 1635.92,1183.54 1639.68,1183.54 1643.44,1183.54 1647.2,1183.54 1650.95,1183.54 1654.71,1183.54 1658.47,1183.54 1662.23,1183.54 1665.98,1183.54 1669.74,1183.54 1673.5,1183.54 1677.26,1183.54 1681.01,1183.54 1684.77,1183.54 1688.53,1183.54 1692.29,1183.54 1696.04,1183.54 1699.8,1183.54" fill="none" stroke="#ff0000" stroke-width="2"/>
<line x1="940.8" y1="1183.54" x2="1699.8" y2="1183.54" stroke="#000" stroke-width="1.5" stroke-dasharray="1.5 2.5"/>
</g>
<rect x="940.8" y="1105.72" width="759" height="95.78" fill="none" stroke="#000" stroke-width="1.5"/>
<line x1="940.8" y1="1183.54" x2="945.4" y2="1183.54" stroke="#000" stroke-width="1.1"/>
<text x="935.4" y="1194.64" font-family="'DejaVu Sans', sans-serif" font-size="30.5" text-anchor="end">0.0</text>
<line x1="940.8" y1="1153.61" x2="945.4" y2="1153.61" stroke="#000" stroke-width="1.1"/>
<text x="935.4" y="1164.71" font-family="'DejaVu Sans', sans-serif" font-size="30.5" text-anchor="end">0.5</text>
<line x1="940.8" y1="1123.68" x2="945.4" y2="1123.68" stroke="#000" stroke-width="1.1"/>
<text x="935.4" y="1134.78" font-family="'DejaVu Sans', sans-serif" font-size="30.5" text-anchor="end">1.0</text>
<line x1="948.31" y1="1201.5" x2="948.31" y2="1196.5" stroke="#000" stroke-width="1.1"/>
<line x1="1023.46" y1="1201.5" x2="1023.46" y2="1196.5" stroke="#000" stroke-width="1.1"/>
<line x1="1098.61" y1="1201.5" x2="1098.61" y2="1196.5" stroke="#000" stroke-width="1.1"/>
<line x1="1173.76" y1="1201.5" x2="1173.76" y2="1196.5" stroke="#000" stroke-width="1.1"/>
<line x1="1248.91" y1="1201.5" x2="1248.91" y2="1196.5" stroke="#000" stroke-width="1.1"/>
<line x1="1324.06" y1="1201.5" x2="1324.06" y2="1196.5" stroke="#000" stroke-width="1.1"/>
<line x1="1399.21" y1="1201.5" x2="1399.21" y2="1196.5" stroke="#000" stroke-width="1.1"/>
<line x1="1474.35" y1="1201.5" x2="1474.35" y2="1196.5" stroke="#000" stroke-width="1.1"/>
<line x1="1549.5" y1="1201.5" x2="1549.5" y2="1196.5" stroke="#000" stroke-width="1.1"/>
<line x1="1624.65" y1="1201.5" x2="1624.65" y2="1196.5" stroke="#000" stroke-width="1.1"/>
<line x1="1699.8" y1="1201.5" x2="1699.8" y2="1196.5" stroke="#000" stroke-width="1.1"/>
<text font-family="'DejaVu Sans', sans-serif" font-size="30.5" y="1153.82"><tspan x="1324" font-style="italic">K</tspan><tspan x="1349.9">=</tspan><tspan x="1381.4">24.88</tspan></text>
<text font-family="'DejaVu Sans', sans-serif" font-size="30.5" y="1141.62"><tspan x="1606" font-style="italic">N</tspan><tspan x="1634.8">=</tspan><tspan x="1666.3">6</tspan></text>
<text x="948.31" y="1230.5" font-family="'DejaVu Sans', sans-serif" font-size="30.5" text-anchor="middle">0</text>
<text x="1023.46" y="1230.5" font-family="'DejaVu Sans', sans-serif" font-size="30.5" text-anchor="middle">2</text>
<text x="1098.61" y="1230.5" font-family="'DejaVu Sans', sans-serif" font-size="30.5" text-anchor="middle">4</text>
<text x="1173.76" y="1230.5" font-family="'DejaVu Sans', sans-serif" font-size="30.5" text-anchor="middle">6</text>
<text x="1248.91" y="1230.5" font-family="'DejaVu Sans', sans-serif" font-size="30.5" text-anchor="middle">8</text>
<text x="1324.06" y="1230.5" font-family="'DejaVu Sans', sans-serif" font-size="30.5" text-anchor="middle">10</text>
<text x="1399.21" y="1230.5" font-family="'DejaVu Sans', sans-serif" font-size="30.5" text-anchor="middle">12</text>
<text x="1474.35" y="1230.5" font-family="'DejaVu Sans', sans-serif" font-size="30.5" text-anchor="middle">14</text>
<text x="1549.5" y="1230.5" font-family="'DejaVu Sans', sans-serif" font-size="30.5" text-anchor="middle">16</text>
<text x="1624.65" y="1230.5" font-family="'DejaVu Sans', sans-serif" font-size="30.5" text-anchor="middle">18</text>
<text x="1699.8" y="1230.5" font-family="'DejaVu Sans', sans-serif" font-size="30.5" text-anchor="middle">20</text>
<text x="1305.2" y="1264.8" font-family="'DejaVu Sans', sans-serif" font-size="30.5" font-style="italic">m</text>
<text font-family="'DejaVu Sans', sans-serif" font-size="30.5" text-anchor="middle" transform="translate(872.4 916.7) rotate(-90)">Amplitude [arb. units]</text></svg>
</body></html>
